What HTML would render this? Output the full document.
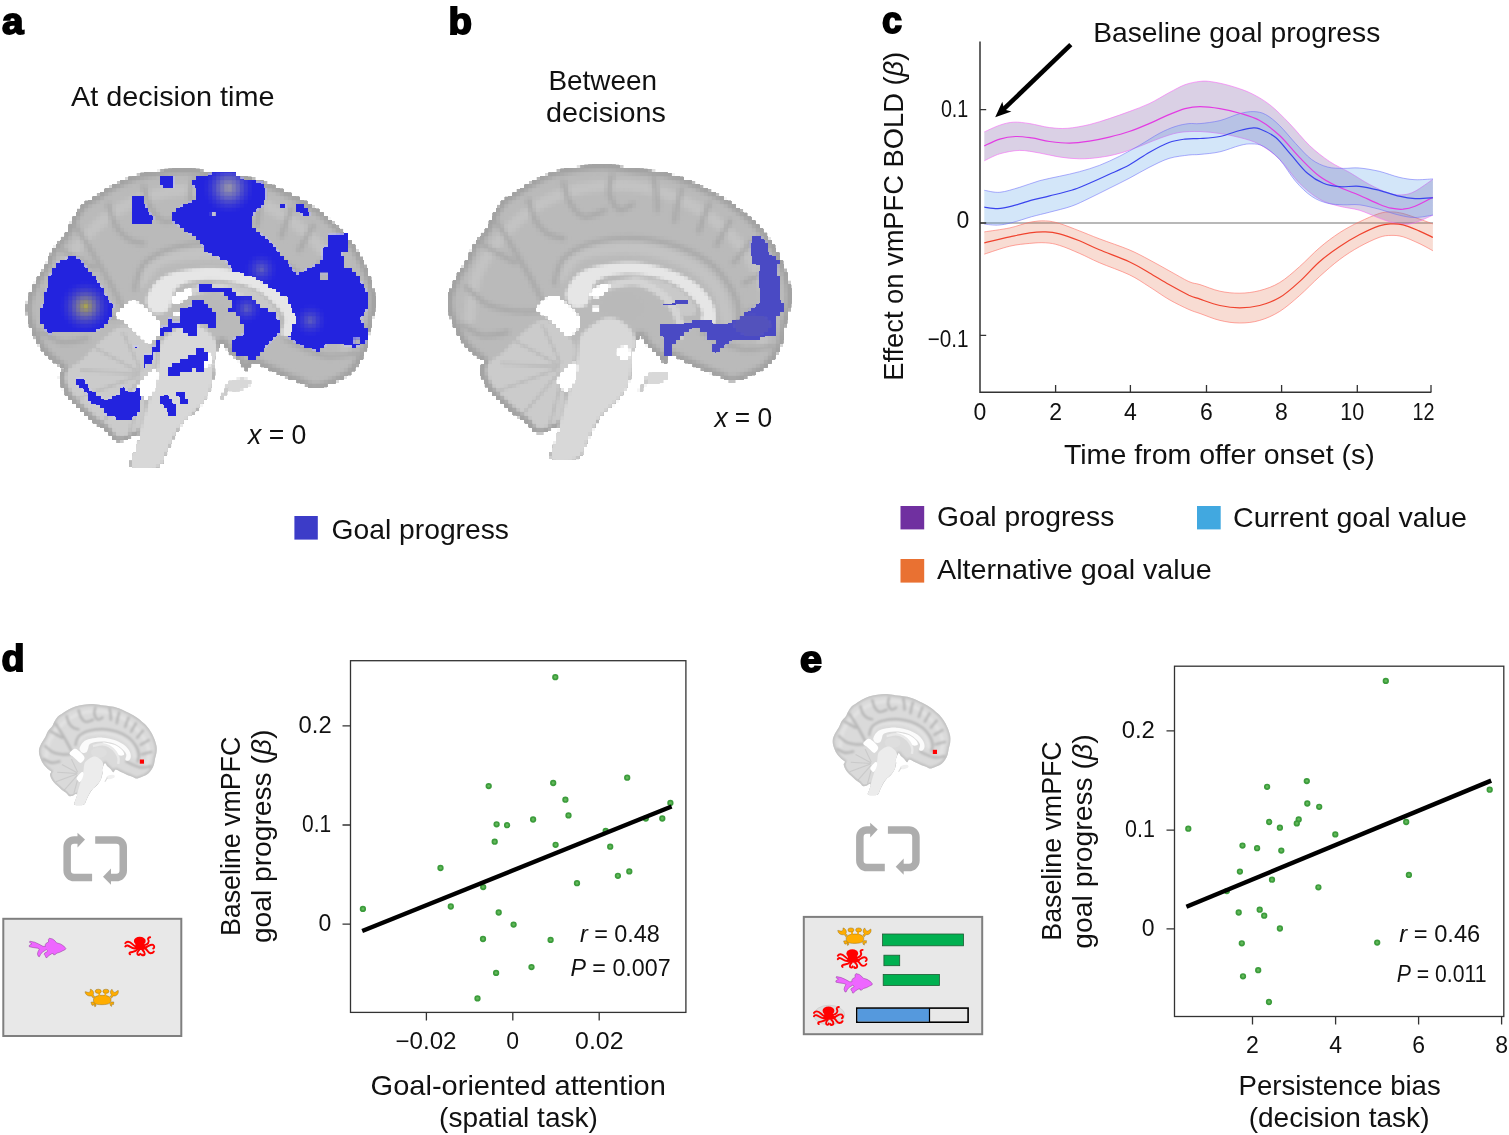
<!DOCTYPE html>
<html lang="en"><head><meta charset="utf-8"><title>Figure</title>
<style>html,body{margin:0;padding:0;background:#fff}body{width:1509px;height:1135px;overflow:hidden}svg{display:block}text{font-family:"Liberation Sans", sans-serif;fill:#111}</style></head><body>
<svg width="1509" height="1135" viewBox="0 0 1509 1135">
<rect width="1509" height="1135" fill="#fff"/>
<defs>
<clipPath id="bclip"><path d="M600 118C625.3 118.5 645.5 124.5 672 128C698.5 131.5 735 134.7 759 139C783 143.3 795.8 146.8 816 154C836.2 161.2 856.3 170.3 880 182C903.7 193.7 933 207.3 958 224C983 240.7 1010.3 263.3 1030 282C1049.7 300.7 1062.7 316.7 1076 336C1089.3 355.3 1100.5 376 1110 398C1119.5 420 1129 447.7 1133 468C1137 488.3 1136 502.2 1134 520C1132 537.8 1124.8 557 1121 575C1117.2 593 1115.8 612.5 1111 628C1106.2 643.5 1100.2 655.7 1092 668C1083.8 680.3 1073.7 692.7 1062 702C1050.3 711.3 1034.8 718 1022 724C1009.2 730 995.3 735 985 738C974.7 741 969.2 743.7 960 742C950.8 740.3 943.3 733.7 930 728C916.7 722.3 896.7 715.2 880 708C863.3 700.8 845 691.7 830 685C815 678.3 799.7 667.2 790 668C780.3 668.8 779 691 772 690C765 689 756.3 670.3 748 662C739.7 653.7 729.7 648.3 722 640C714.3 631.7 708 612 702 612C696 612 690.2 630.3 686 640C681.8 649.7 678 660 677 670C676 680 681.8 686.7 680 700C678.2 713.3 673.7 733.3 666 750C658.3 766.7 645.5 786.3 634 800C622.5 813.7 607.7 820 597 832C586.3 844 578.5 857.3 570 872C561.5 886.7 554 905 546 920C538 935 538.8 955 522 962C505.2 969 456.2 969 445 962C433.8 955 451.2 934 455 920C458.8 906 468.8 885.7 468 878C467.2 870.3 456.3 872.3 450 874C443.7 875.7 438.3 885.3 430 888C421.7 890.7 409.2 894.3 400 890C390.8 885.7 385 870.7 375 862C365 853.3 352.5 848 340 838C327.5 828 313 814.7 300 802C287 789.3 272 777 262 762C252 747 242 724.7 240 712C238 699.3 252 693.3 250 686C248 678.7 238 677.3 228 668C218 658.7 201.3 646 190 630C178.7 614 167.2 592 160 572C152.8 552 145.8 530.3 147 510C148.2 489.7 158 469.3 167 450C176 430.7 191.5 411.5 201 394C210.5 376.5 214.5 359.8 224 345C233.5 330.2 249.3 318.2 258 305C266.7 291.8 268 279.8 276 266C284 252.2 295.3 233.2 306 222C316.7 210.8 325.7 208.3 340 199C354.3 189.7 373.3 176 392 166C410.7 156 430.7 145.8 452 139C473.3 132.2 495.3 128.5 520 125C544.7 121.5 574.7 117.5 600 118Z"/></clipPath>
<filter id="bl6" x="-20%" y="-20%" width="140%" height="140%"><feGaussianBlur stdDeviation="6"/></filter>
<filter id="bl10" x="-20%" y="-20%" width="140%" height="140%"><feGaussianBlur stdDeviation="9"/></filter>
<filter id="bl3" x="-20%" y="-20%" width="140%" height="140%"><feGaussianBlur stdDeviation="3"/></filter>
<filter id="blsoft" x="-5%" y="-5%" width="110%" height="110%"><feGaussianBlur stdDeviation="4"/></filter>
<filter id="pix" x="0" y="0" width="100%" height="100%" filterUnits="userSpaceOnUse" primitiveUnits="userSpaceOnUse" color-interpolation-filters="sRGB"><feFlood x="1" y="1" width="2" height="2" flood-color="#000"/><feComposite in2="SourceGraphic" operator="over" x="0" y="0" width="4" height="4" result="cell"/><feTile in="cell" x="0" y="0" width="1509" height="600" result="grid"/><feComposite in="SourceGraphic" in2="grid" operator="in"/><feMorphology operator="dilate" radius="1"/></filter>
<radialGradient id="hot1"><stop offset="0" stop-color="#a8a24a"/><stop offset="0.35" stop-color="#77749a" stop-opacity="0.85"/><stop offset="1" stop-color="#3a3ad0" stop-opacity="0"/></radialGradient>
<radialGradient id="hot2"><stop offset="0" stop-color="#9a98a6"/><stop offset="0.4" stop-color="#6f6fb8" stop-opacity="0.8"/><stop offset="1" stop-color="#3a3ad0" stop-opacity="0"/></radialGradient>
<radialGradient id="hot3"><stop offset="0" stop-color="#6464b8" stop-opacity="0.9"/><stop offset="1" stop-color="#3a3ad0" stop-opacity="0"/></radialGradient>
<g id="fish"><polygon points="36.98,10.34 34.79,7.75 31.61,5.77 27.63,4.57 26.04,2.58 23.66,0.8 20.48,0 19.48,1.39 19.68,3.78 17.3,4.97 16.3,6.56 16.5,8.15 14.12,8.15 9.74,5.77 5.77,3.98 0.99,2.98 0.6,4.17 2.98,5.57 0.4,7.16 0.4,8.55 4.17,9.34 8.55,9.94 10.54,10.93 9.15,13.32 8.55,15.71 9.34,18.09 10.54,18.49 11.73,16.1 13.72,13.72 16.5,12.13 17.5,11.33 18.49,12.52 18.29,13.52 15.9,14.71 15.31,16.1 16.5,17.69 17.1,19.48 18.09,19.28 20.08,17.3 22.47,15.71 24.25,15.11 24.65,16.5 26.04,16.5 28.03,14.91 30.82,14.12 34,12.52 36.38,11.33" fill="#ee66ff" stroke="#8a3a96" stroke-width="0.5" stroke-linejoin="round"/></g>
<g id="octo" transform="scale(0.03313) translate(-300 -265)" fill="#ff0000" stroke="#ff0000" stroke-linecap="round" stroke-linejoin="round"><ellipse cx="755" cy="395" rx="178" ry="128" stroke="none"/><path d="M610 470C640 520 630 550 590 590C640 690 920 700 990 600C920 560 880 520 900 470Z" stroke="none"/><g fill="none" stroke-width="58"><path d="M640 560C540 540 510 410 400 415C350 420 330 445 318 462"/><path d="M640 615C520 650 470 545 390 530C350 525 330 545 318 562"/><path d="M690 650C620 730 540 715 465 740C435 755 440 790 462 798"/><path d="M735 670C660 740 670 830 740 815C770 805 770 790 765 780"/><path d="M840 670C930 740 920 830 840 828C815 825 810 810 815 800"/><path d="M940 640C1010 690 1000 760 1080 765C1140 765 1170 730 1180 712"/><path d="M950 580C1040 540 1090 480 1160 515C1205 545 1200 610 1160 622"/><path d="M900 520C990 500 1060 430 1010 350C990 310 1030 285 1068 282"/></g></g>
<g id="crab" transform="scale(0.03181) translate(-195 -280)" fill="#ffad00" stroke="#8c6a1c" stroke-width="14" stroke-linejoin="round"><path d="M470 690L400 700L430 790L470 800L500 760L520 840L560 820L545 740Z"/><path d="M1040 690L1120 690L1110 770L1060 760L1050 830L1010 800L1000 740Z"/><path d="M215 370C230 480 330 520 420 500L470 570L520 520L470 470C510 400 470 310 380 290C390 340 370 390 330 390C280 390 240 360 215 370Z"/><path d="M1060 290C1000 340 1000 420 1050 470L1000 520L1050 570L1100 500C1200 520 1280 440 1260 330C1230 320 1200 380 1150 390C1110 390 1090 340 1060 290Z"/><path d="M640 400H690V500H640ZM830 400H880V500H830Z" stroke="none"/><ellipse cx="630" cy="355" rx="95" ry="66"/><ellipse cx="872" cy="355" rx="95" ry="66"/><path d="M480 625C480 525 600 482 757 482S1032 525 1032 625C1032 725 980 772 757 776S480 745 480 625Z"/><path d="M645 420H685V500H645ZM835 420H875V500H835Z" stroke="none"/></g>
</defs>
<text x="2" y="34" font-size="36" font-weight="bold" textLength="21.5" lengthAdjust="spacingAndGlyphs" stroke="#000" stroke-width="1.8" style="fill:#000" paint-order="stroke">a</text>
<text x="448.5" y="33.5" font-size="36" font-weight="bold" textLength="23.5" lengthAdjust="spacingAndGlyphs" stroke="#000" stroke-width="1.8" style="fill:#000" paint-order="stroke">b</text>
<text x="882" y="33" font-size="36" font-weight="bold" textLength="20" lengthAdjust="spacingAndGlyphs" stroke="#000" stroke-width="1.8" style="fill:#000" paint-order="stroke">c</text>
<text x="1.5" y="671" font-size="36" font-weight="bold" textLength="23" lengthAdjust="spacingAndGlyphs" stroke="#000" stroke-width="1.8" style="fill:#000" paint-order="stroke">d</text>
<text x="800" y="672.3" font-size="36" font-weight="bold" textLength="22" lengthAdjust="spacingAndGlyphs" stroke="#000" stroke-width="1.8" style="fill:#000" paint-order="stroke">e</text>
<text x="71" y="106" font-size="28" font-weight="normal" textLength="203.5" lengthAdjust="spacingAndGlyphs">At decision time</text>
<text x="548.5" y="89.8" font-size="28" font-weight="normal" textLength="108.5" lengthAdjust="spacingAndGlyphs">Between</text>
<text x="546" y="121.9" font-size="28" font-weight="normal" textLength="119.8" lengthAdjust="spacingAndGlyphs">decisions</text>
<g filter="url(#pix)">
<g transform="translate(26.5 168.5) scale(0.3530) translate(-148 -118)">
<path d="M600 118C625.3 118.5 645.5 124.5 672 128C698.5 131.5 735 134.7 759 139C783 143.3 795.8 146.8 816 154C836.2 161.2 856.3 170.3 880 182C903.7 193.7 933 207.3 958 224C983 240.7 1010.3 263.3 1030 282C1049.7 300.7 1062.7 316.7 1076 336C1089.3 355.3 1100.5 376 1110 398C1119.5 420 1129 447.7 1133 468C1137 488.3 1136 502.2 1134 520C1132 537.8 1124.8 557 1121 575C1117.2 593 1115.8 612.5 1111 628C1106.2 643.5 1100.2 655.7 1092 668C1083.8 680.3 1073.7 692.7 1062 702C1050.3 711.3 1034.8 718 1022 724C1009.2 730 995.3 735 985 738C974.7 741 969.2 743.7 960 742C950.8 740.3 943.3 733.7 930 728C916.7 722.3 896.7 715.2 880 708C863.3 700.8 845 691.7 830 685C815 678.3 799.7 667.2 790 668C780.3 668.8 779 691 772 690C765 689 756.3 670.3 748 662C739.7 653.7 729.7 648.3 722 640C714.3 631.7 708 612 702 612C696 612 690.2 630.3 686 640C681.8 649.7 678 660 677 670C676 680 681.8 686.7 680 700C678.2 713.3 673.7 733.3 666 750C658.3 766.7 645.5 786.3 634 800C622.5 813.7 607.7 820 597 832C586.3 844 578.5 857.3 570 872C561.5 886.7 554 905 546 920C538 935 538.8 955 522 962C505.2 969 456.2 969 445 962C433.8 955 451.2 934 455 920C458.8 906 468.8 885.7 468 878C467.2 870.3 456.3 872.3 450 874C443.7 875.7 438.3 885.3 430 888C421.7 890.7 409.2 894.3 400 890C390.8 885.7 385 870.7 375 862C365 853.3 352.5 848 340 838C327.5 828 313 814.7 300 802C287 789.3 272 777 262 762C252 747 242 724.7 240 712C238 699.3 252 693.3 250 686C248 678.7 238 677.3 228 668C218 658.7 201.3 646 190 630C178.7 614 167.2 592 160 572C152.8 552 145.8 530.3 147 510C148.2 489.7 158 469.3 167 450C176 430.7 191.5 411.5 201 394C210.5 376.5 214.5 359.8 224 345C233.5 330.2 249.3 318.2 258 305C266.7 291.8 268 279.8 276 266C284 252.2 295.3 233.2 306 222C316.7 210.8 325.7 208.3 340 199C354.3 189.7 373.3 176 392 166C410.7 156 430.7 145.8 452 139C473.3 132.2 495.3 128.5 520 125C544.7 121.5 574.7 117.5 600 118Z" fill="#bababa"/>
<g clip-path="url(#bclip)">
<g filter="url(#bl6)" fill="none" stroke-linecap="round">
<path d="M600 118C625.3 118.5 645.5 124.5 672 128C698.5 131.5 735 134.7 759 139C783 143.3 795.8 146.8 816 154C836.2 161.2 856.3 170.3 880 182C903.7 193.7 933 207.3 958 224C983 240.7 1010.3 263.3 1030 282C1049.7 300.7 1062.7 316.7 1076 336C1089.3 355.3 1100.5 376 1110 398C1119.5 420 1129 447.7 1133 468C1137 488.3 1136 502.2 1134 520C1132 537.8 1124.8 557 1121 575C1117.2 593 1115.8 612.5 1111 628C1106.2 643.5 1100.2 655.7 1092 668C1083.8 680.3 1073.7 692.7 1062 702C1050.3 711.3 1034.8 718 1022 724C1009.2 730 995.3 735 985 738C974.7 741 969.2 743.7 960 742C950.8 740.3 943.3 733.7 930 728C916.7 722.3 896.7 715.2 880 708C863.3 700.8 845 691.7 830 685C815 678.3 799.7 667.2 790 668C780.3 668.8 779 691 772 690C765 689 756.3 670.3 748 662C739.7 653.7 729.7 648.3 722 640C714.3 631.7 708 612 702 612C696 612 690.2 630.3 686 640C681.8 649.7 678 660 677 670C676 680 681.8 686.7 680 700C678.2 713.3 673.7 733.3 666 750C658.3 766.7 645.5 786.3 634 800C622.5 813.7 607.7 820 597 832C586.3 844 578.5 857.3 570 872C561.5 886.7 554 905 546 920C538 935 538.8 955 522 962C505.2 969 456.2 969 445 962C433.8 955 451.2 934 455 920C458.8 906 468.8 885.7 468 878C467.2 870.3 456.3 872.3 450 874C443.7 875.7 438.3 885.3 430 888C421.7 890.7 409.2 894.3 400 890C390.8 885.7 385 870.7 375 862C365 853.3 352.5 848 340 838C327.5 828 313 814.7 300 802C287 789.3 272 777 262 762C252 747 242 724.7 240 712C238 699.3 252 693.3 250 686C248 678.7 238 677.3 228 668C218 658.7 201.3 646 190 630C178.7 614 167.2 592 160 572C152.8 552 145.8 530.3 147 510C148.2 489.7 158 469.3 167 450C176 430.7 191.5 411.5 201 394C210.5 376.5 214.5 359.8 224 345C233.5 330.2 249.3 318.2 258 305C266.7 291.8 268 279.8 276 266C284 252.2 295.3 233.2 306 222C316.7 210.8 325.7 208.3 340 199C354.3 189.7 373.3 176 392 166C410.7 156 430.7 145.8 452 139C473.3 132.2 495.3 128.5 520 125C544.7 121.5 574.7 117.5 600 118Z" stroke="#a2a2a2" stroke-width="30"/>
<path d="M470 440C478.3 430 498.3 393 520 380C541.7 367 570 365.3 600 362C630 358.7 666.7 356.2 700 360C733.3 363.8 770 373.3 800 385C830 396.7 858.3 412.5 880 430C901.7 447.5 918.3 468.3 930 490C941.7 511.7 946.7 548.3 950 560" stroke="#c3c3c3" stroke-width="34"/>
<path d="M210 560C213.3 540 215 478.3 230 440C245 401.7 271.7 363.3 300 330C328.3 296.7 363.3 263.3 400 240C436.7 216.7 473.3 200 520 190C566.7 180 630 175 680 180C730 185 776.7 200 820 220C863.3 240 905 268.3 940 300C975 331.7 1008.3 373.3 1030 410C1051.7 446.7 1066.7 481.7 1070 520C1073.3 558.3 1053.3 620 1050 640" stroke="#c3c3c3" stroke-width="30"/>
<path d="M455 460C459.2 448.3 462.5 409.2 480 390C497.5 370.8 526.7 355 560 345C593.3 335 640 329.2 680 330C720 330.8 763.3 338.3 800 350C836.7 361.7 873.3 380 900 400C926.7 420 945.8 446.7 960 470C974.2 493.3 982.5 518.3 985 540C987.5 561.7 976.7 590 975 600" stroke="#a8a8a8" stroke-width="15"/>
<path d="M290 285C296.7 295.8 315 325 330 350C345 375 364.2 406.7 380 435C395.8 463.3 417.5 505.8 425 520" stroke="#a8a8a8" stroke-width="15"/>
<path d="M200 470C210 478.3 236.7 508.3 260 520C283.3 531.7 315 536.7 340 540C365 543.3 398.3 540 410 540" stroke="#a8a8a8" stroke-width="15"/>
<path d="M480 170C483.3 180 490 213.7 500 230C510 246.3 523.3 264.7 540 268C556.7 271.3 590 253 600 250" stroke="#a8a8a8" stroke-width="15"/>
<path d="M620 150C618.7 158.3 608.7 183.7 612 200C615.3 216.3 628.7 242.7 640 248C651.3 253.3 673.3 234.7 680 232" stroke="#a8a8a8" stroke-width="15"/>
<path d="M740 160C741.3 167.5 746.3 190 748 205C749.7 220 749.7 242.5 750 250" stroke="#a8a8a8" stroke-width="15"/>
<path d="M820 190C818 197.5 811.3 220 808 235C804.7 250 801.3 272.5 800 280" stroke="#a8a8a8" stroke-width="15"/>
<path d="M900 230C897.3 236.7 889 256.7 884 270C879 283.3 872.3 303.3 870 310" stroke="#a8a8a8" stroke-width="15"/>
<path d="M960 280C956.7 285.8 946.7 303.3 940 315C933.3 326.7 923.3 344.2 920 350" stroke="#a8a8a8" stroke-width="15"/>
<path d="M1020 340C1015.8 345 1003.3 360 995 370C986.7 380 974.2 395 970 400" stroke="#a8a8a8" stroke-width="15"/>
<path d="M1070 420C1064.2 423.3 1046.7 433.3 1035 440C1023.3 446.7 1005.8 456.7 1000 460" stroke="#a8a8a8" stroke-width="15"/>
<path d="M1090 520C1083.3 521.7 1063.3 526.7 1050 530C1036.7 533.3 1016.7 538.3 1010 540" stroke="#a8a8a8" stroke-width="15"/>
<path d="M380 220C383.3 230 390 263.3 400 280C410 296.7 426.7 311.7 440 320C453.3 328.3 473.3 328.3 480 330" stroke="#a8a8a8" stroke-width="15"/>
<path d="M250 350C257.5 354.2 280 366.7 295 375C310 383.3 332.5 395.8 340 400" stroke="#a8a8a8" stroke-width="15"/>
<path d="M1080 640C1066.7 641.7 1025 652.5 1000 650C975 647.5 950 633.3 930 625C910 616.7 888.3 604.2 880 600" stroke="#a8a8a8" stroke-width="15"/>
<path d="M190 580C200 585 228.3 606.7 250 610C271.7 613.3 308.3 601.7 320 600" stroke="#a8a8a8" stroke-width="15"/>
</g>
<g filter="url(#bl3)">
<path d="M306 660C320.7 647 341 621.7 360 606C379 590.3 401.7 568.3 420 566C438.3 563.7 454.7 579.7 470 592C485.3 604.3 506.7 622 512 640C517.3 658 509.7 683 502 700C494.3 717 469.3 728.3 466 742C462.7 755.7 481.3 764.7 482 782C482.7 799.3 478.3 831 470 846C461.7 861 443 867.7 432 872C421 876.3 412 876 404 872C396 868 393 856.3 384 848C375 839.7 362 832 350 822C338 812 324 799.7 312 788C300 776.3 286.7 765 278 752C269.3 739 261 721.3 260 710C259 698.7 264.3 692.3 272 684C279.7 675.7 291.3 673 306 660Z" fill="#cbcbcb"/>
<ellipse cx="650" cy="525" rx="66" ry="44" fill="#b9b9b9"/>
<path d="M540 600C552.3 588 581.7 564.7 600 560C618.3 555.3 635.7 562.3 650 572C664.3 581.7 681.3 598.3 686 618C690.7 637.7 681.7 666.3 678 690C674.3 713.7 674 739.7 664 760C654 780.3 632 796.7 618 812C604 827.3 592 834 580 852C568 870 555.7 901.7 546 920C536.3 938.3 538.8 955 522 962C505.2 969 453.7 978.7 445 962C436.3 945.3 460.8 895.3 470 862C479.2 828.7 491.7 792 500 762C508.3 732 515.7 703.7 520 682C524.3 660.3 522.7 645.7 526 632C529.3 618.3 527.7 612 540 600Z" fill="#d8d8d8"/>
<path d="M690 440C706.3 440.8 755 450 780 460C805 470 826.3 486.7 840 500C853.7 513.3 862.7 531.3 862 540C861.3 548.7 846.3 552 836 552C825.7 552 811 547.7 800 540C789 532.3 783.3 517.7 770 506C756.7 494.3 734.7 478.5 720 470C705.3 461.5 687 460 682 455C677 450 673.7 439.2 690 440Z" fill="#c9c9c9"/>
<path d="M600 470C613.3 467.5 656.7 454.2 680 455C703.3 455.8 721.7 464.2 740 475C758.3 485.8 777.5 503.3 790 520C802.5 536.7 811.3 558.3 815 575C818.7 591.7 812.5 612.5 812 620" fill="none" stroke="#d4d4d4" stroke-width="20"/>
<path d="M490 482C494.7 470.3 505 448 520 436C535 424 553.3 416 580 410C606.7 404 646.7 398.3 680 400C713.3 401.7 750 410 780 420C810 430 839.2 445 860 460C880.8 475 895.3 493.3 905 510C914.7 526.7 918.8 546.3 918 560C917.2 573.7 907.7 587.7 900 592C892.3 596.3 875.3 594.3 872 586C868.7 577.7 883.7 556.3 880 542C876.3 527.7 865 514.3 850 500C835 485.7 815 467.2 790 456C765 444.8 728.3 436.3 700 433C671.7 429.7 641.3 432.2 620 436C598.7 439.8 582 447 572 456C562 465 564.5 479 560 490C555.5 501 553.3 515.8 545 522C536.7 528.2 518.8 529.7 510 527C501.2 524.3 495.3 513.5 492 506C488.7 498.5 485.3 493.7 490 482Z" fill="#e6e6e6"/>
<g fill="none" stroke="#a8a8a8" stroke-width="9" opacity="0.45">
<path d="M470 700L300 690M465 705L290 770M470 715L360 840M480 720L440 870M468 695L340 625M472 690L420 580"/>
</g>
</g>
</g>
<ellipse cx="748" cy="730" rx="36" ry="17" fill="#d8d8d8" transform="rotate(-12 748 730)"/>
<path d="M700 770L722 735" stroke="#cbcbcb" stroke-width="9" fill="none"/>
<path d="M404 532C406.7 521.7 433.3 497.7 446 494C458.7 490.3 467 500 480 510C493 520 516.3 541.7 524 554C531.7 566.3 530.7 574.3 526 584C521.3 593.7 506.7 611.7 496 612C485.3 612.3 473 595.3 462 586C451 576.7 439.7 565 430 556C420.3 547 401.3 542.3 404 532Z" fill="#fff"/>
<path d="M464 736C468.8 724 494.5 696 504 690C513.5 684 519.8 691.3 521 700C522.2 708.7 516.2 730 511 742C505.8 754 496 768.7 490 772C484 775.3 479.3 768 475 762C470.7 756 459.2 748 464 736Z" fill="#fff"/>
<path d="M700 640C705 637.8 714 646.7 722 652C730 657.3 741.7 665.3 748 672C754.3 678.7 762.2 687.3 760 692C757.8 696.7 744.2 700.3 735 700C725.8 699.7 712.2 695.8 705 690C697.8 684.2 692.8 673.3 692 665C691.2 656.7 695 642.2 700 640Z" fill="#fff"/>
<path d="M640 646C644.8 642 660.8 638 666 642C671.2 646 673.2 663.5 671 670C668.8 676.5 658.7 681.7 653 681C647.3 680.3 639.2 671.8 637 666C634.8 660.2 635.2 650 640 646Z" fill="#fff"/>
<path d="M556 492L574 470L612 458L614 474L596 490L574 504Z" fill="#fff"/>
<path d="M566 526h14v13h-14z" fill="#fff"/>
</g>
<g transform="translate(0 160) scale(0.26525)">
<clipPath id="aclip"><path d="M265 365L300 370L340 420L380 470L410 530L430 545L415 600L380 640L330 650L210 645L180 660L165 625L145 600L165 520L185 440L215 385ZM600 65L655 65L655 105L615 105L600 85ZM495 140L540 140L555 190L580 215L575 245L495 245ZM740 65L800 50L885 50L915 70L990 85L1005 120L1000 165L960 195L945 235L960 260L1000 290L1040 330L1080 380L1120 430L1180 400L1215 380L1215 330L1240 320L1240 280L1310 280L1310 345L1290 350L1295 400L1340 420L1370 470L1385 500L1385 560L1360 600L1390 650L1380 690L1340 705L1300 700L1240 690L1200 720L1130 700L1090 670L1100 630L1120 600L1110 590L1080 520L1000 470L950 440L880 420L850 380L780 350L740 290L700 270L650 230L650 200L690 170L740 150L740 110L720 90ZM872 517L946 517L960 533L976 549L1006 563L1036 577L1052 609L1052 653L1036 669L1022 685L1006 701L992 717L976 743L962 743L962 759L932 759L932 743L886 743L886 729L872 729L872 685L886 669L902 669L916 653L916 625L902 609L902 593L886 577L858 577L858 561L872 561ZM720 533L768 533L780 549L796 563L810 577L810 637L780 637L780 621L748 621L748 665L706 665L706 655L688 655L688 639L644 639L644 653L614 653L614 667L600 667L600 639L614 625L630 625L630 595L644 595L644 609L674 609L674 563L704 563L704 549L720 549ZM748 471L796 471L796 486L872 486L886 502L886 519L858 531L858 519L840 501L748 501ZM736 713L766 713L766 729L780 729L780 761L766 761L766 803L736 803L736 789L720 789L720 803L674 803L674 819L630 819L630 775L644 775L644 761L674 761L674 745L706 745L706 731L736 731ZM584 683L598 683L598 729L582 729L582 759L568 759L568 773L552 773L552 789L538 789L538 733L568 733L568 701L584 701ZM600 900L625 880L640 895L660 920L660 965L635 965L620 930L600 920ZM665 880L700 870L705 915L680 915ZM505 700L520 700L520 712L505 712ZM285 820L320 825L330 860L360 880L400 905L450 880L460 850L490 880L530 850L535 900L520 960L490 985L440 975L400 960L380 930L340 920L325 880L290 850ZM1050 165L1080 165L1080 180L1050 180ZM1115 165L1145 170L1170 195L1170 215L1150 215L1120 190Z"/></clipPath>
<path d="M265 365L300 370L340 420L380 470L410 530L430 545L415 600L380 640L330 650L210 645L180 660L165 625L145 600L165 520L185 440L215 385ZM600 65L655 65L655 105L615 105L600 85ZM495 140L540 140L555 190L580 215L575 245L495 245ZM740 65L800 50L885 50L915 70L990 85L1005 120L1000 165L960 195L945 235L960 260L1000 290L1040 330L1080 380L1120 430L1180 400L1215 380L1215 330L1240 320L1240 280L1310 280L1310 345L1290 350L1295 400L1340 420L1370 470L1385 500L1385 560L1360 600L1390 650L1380 690L1340 705L1300 700L1240 690L1200 720L1130 700L1090 670L1100 630L1120 600L1110 590L1080 520L1000 470L950 440L880 420L850 380L780 350L740 290L700 270L650 230L650 200L690 170L740 150L740 110L720 90ZM872 517L946 517L960 533L976 549L1006 563L1036 577L1052 609L1052 653L1036 669L1022 685L1006 701L992 717L976 743L962 743L962 759L932 759L932 743L886 743L886 729L872 729L872 685L886 669L902 669L916 653L916 625L902 609L902 593L886 577L858 577L858 561L872 561ZM720 533L768 533L780 549L796 563L810 577L810 637L780 637L780 621L748 621L748 665L706 665L706 655L688 655L688 639L644 639L644 653L614 653L614 667L600 667L600 639L614 625L630 625L630 595L644 595L644 609L674 609L674 563L704 563L704 549L720 549ZM748 471L796 471L796 486L872 486L886 502L886 519L858 531L858 519L840 501L748 501ZM736 713L766 713L766 729L780 729L780 761L766 761L766 803L736 803L736 789L720 789L720 803L674 803L674 819L630 819L630 775L644 775L644 761L674 761L674 745L706 745L706 731L736 731ZM584 683L598 683L598 729L582 729L582 759L568 759L568 773L552 773L552 789L538 789L538 733L568 733L568 701L584 701ZM600 900L625 880L640 895L660 920L660 965L635 965L620 930L600 920ZM665 880L700 870L705 915L680 915ZM505 700L520 700L520 712L505 712ZM285 820L320 825L330 860L360 880L400 905L450 880L460 850L490 880L530 850L535 900L520 960L490 985L440 975L400 960L380 930L340 920L325 880L290 850ZM1050 165L1080 165L1080 180L1050 180ZM1115 165L1145 170L1170 195L1170 215L1150 215L1120 190Z" fill="#2323de" shape-rendering="crispEdges"/>
<g clip-path="url(#aclip)">
<circle cx="322" cy="552" r="95" fill="url(#hot1)"/>
<circle cx="862" cy="105" r="95" fill="url(#hot2)"/>
<circle cx="985" cy="412" r="60" fill="url(#hot3)"/>
<circle cx="930" cy="560" r="55" fill="url(#hot3)"/>
<circle cx="1170" cy="605" r="60" fill="url(#hot3)"/>
</g>
<rect x="1205" y="428" width="28" height="26" fill="#b4b4b8"/>
<rect x="795" y="195" width="15" height="15" fill="#c0c0d0"/>
<rect x="1335" y="672" width="22" height="20" fill="#b0b0b6"/>
</g>
</g>
<g filter="url(#pix)">
<g transform="translate(448 164.6) scale(0.3475) translate(-148 -118)">
<path d="M600 118C625.3 118.5 645.5 124.5 672 128C698.5 131.5 735 134.7 759 139C783 143.3 795.8 146.8 816 154C836.2 161.2 856.3 170.3 880 182C903.7 193.7 933 207.3 958 224C983 240.7 1010.3 263.3 1030 282C1049.7 300.7 1062.7 316.7 1076 336C1089.3 355.3 1100.5 376 1110 398C1119.5 420 1129 447.7 1133 468C1137 488.3 1136 502.2 1134 520C1132 537.8 1124.8 557 1121 575C1117.2 593 1115.8 612.5 1111 628C1106.2 643.5 1100.2 655.7 1092 668C1083.8 680.3 1073.7 692.7 1062 702C1050.3 711.3 1034.8 718 1022 724C1009.2 730 995.3 735 985 738C974.7 741 969.2 743.7 960 742C950.8 740.3 943.3 733.7 930 728C916.7 722.3 896.7 715.2 880 708C863.3 700.8 845 691.7 830 685C815 678.3 799.7 667.2 790 668C780.3 668.8 779 691 772 690C765 689 756.3 670.3 748 662C739.7 653.7 729.7 648.3 722 640C714.3 631.7 708 612 702 612C696 612 690.2 630.3 686 640C681.8 649.7 678 660 677 670C676 680 681.8 686.7 680 700C678.2 713.3 673.7 733.3 666 750C658.3 766.7 645.5 786.3 634 800C622.5 813.7 607.7 820 597 832C586.3 844 578.5 857.3 570 872C561.5 886.7 554 905 546 920C538 935 538.8 955 522 962C505.2 969 456.2 969 445 962C433.8 955 451.2 934 455 920C458.8 906 468.8 885.7 468 878C467.2 870.3 456.3 872.3 450 874C443.7 875.7 438.3 885.3 430 888C421.7 890.7 409.2 894.3 400 890C390.8 885.7 385 870.7 375 862C365 853.3 352.5 848 340 838C327.5 828 313 814.7 300 802C287 789.3 272 777 262 762C252 747 242 724.7 240 712C238 699.3 252 693.3 250 686C248 678.7 238 677.3 228 668C218 658.7 201.3 646 190 630C178.7 614 167.2 592 160 572C152.8 552 145.8 530.3 147 510C148.2 489.7 158 469.3 167 450C176 430.7 191.5 411.5 201 394C210.5 376.5 214.5 359.8 224 345C233.5 330.2 249.3 318.2 258 305C266.7 291.8 268 279.8 276 266C284 252.2 295.3 233.2 306 222C316.7 210.8 325.7 208.3 340 199C354.3 189.7 373.3 176 392 166C410.7 156 430.7 145.8 452 139C473.3 132.2 495.3 128.5 520 125C544.7 121.5 574.7 117.5 600 118Z" fill="#bababa"/>
<g clip-path="url(#bclip)">
<g filter="url(#bl6)" fill="none" stroke-linecap="round">
<path d="M600 118C625.3 118.5 645.5 124.5 672 128C698.5 131.5 735 134.7 759 139C783 143.3 795.8 146.8 816 154C836.2 161.2 856.3 170.3 880 182C903.7 193.7 933 207.3 958 224C983 240.7 1010.3 263.3 1030 282C1049.7 300.7 1062.7 316.7 1076 336C1089.3 355.3 1100.5 376 1110 398C1119.5 420 1129 447.7 1133 468C1137 488.3 1136 502.2 1134 520C1132 537.8 1124.8 557 1121 575C1117.2 593 1115.8 612.5 1111 628C1106.2 643.5 1100.2 655.7 1092 668C1083.8 680.3 1073.7 692.7 1062 702C1050.3 711.3 1034.8 718 1022 724C1009.2 730 995.3 735 985 738C974.7 741 969.2 743.7 960 742C950.8 740.3 943.3 733.7 930 728C916.7 722.3 896.7 715.2 880 708C863.3 700.8 845 691.7 830 685C815 678.3 799.7 667.2 790 668C780.3 668.8 779 691 772 690C765 689 756.3 670.3 748 662C739.7 653.7 729.7 648.3 722 640C714.3 631.7 708 612 702 612C696 612 690.2 630.3 686 640C681.8 649.7 678 660 677 670C676 680 681.8 686.7 680 700C678.2 713.3 673.7 733.3 666 750C658.3 766.7 645.5 786.3 634 800C622.5 813.7 607.7 820 597 832C586.3 844 578.5 857.3 570 872C561.5 886.7 554 905 546 920C538 935 538.8 955 522 962C505.2 969 456.2 969 445 962C433.8 955 451.2 934 455 920C458.8 906 468.8 885.7 468 878C467.2 870.3 456.3 872.3 450 874C443.7 875.7 438.3 885.3 430 888C421.7 890.7 409.2 894.3 400 890C390.8 885.7 385 870.7 375 862C365 853.3 352.5 848 340 838C327.5 828 313 814.7 300 802C287 789.3 272 777 262 762C252 747 242 724.7 240 712C238 699.3 252 693.3 250 686C248 678.7 238 677.3 228 668C218 658.7 201.3 646 190 630C178.7 614 167.2 592 160 572C152.8 552 145.8 530.3 147 510C148.2 489.7 158 469.3 167 450C176 430.7 191.5 411.5 201 394C210.5 376.5 214.5 359.8 224 345C233.5 330.2 249.3 318.2 258 305C266.7 291.8 268 279.8 276 266C284 252.2 295.3 233.2 306 222C316.7 210.8 325.7 208.3 340 199C354.3 189.7 373.3 176 392 166C410.7 156 430.7 145.8 452 139C473.3 132.2 495.3 128.5 520 125C544.7 121.5 574.7 117.5 600 118Z" stroke="#a2a2a2" stroke-width="30"/>
<path d="M470 440C478.3 430 498.3 393 520 380C541.7 367 570 365.3 600 362C630 358.7 666.7 356.2 700 360C733.3 363.8 770 373.3 800 385C830 396.7 858.3 412.5 880 430C901.7 447.5 918.3 468.3 930 490C941.7 511.7 946.7 548.3 950 560" stroke="#c3c3c3" stroke-width="34"/>
<path d="M210 560C213.3 540 215 478.3 230 440C245 401.7 271.7 363.3 300 330C328.3 296.7 363.3 263.3 400 240C436.7 216.7 473.3 200 520 190C566.7 180 630 175 680 180C730 185 776.7 200 820 220C863.3 240 905 268.3 940 300C975 331.7 1008.3 373.3 1030 410C1051.7 446.7 1066.7 481.7 1070 520C1073.3 558.3 1053.3 620 1050 640" stroke="#c3c3c3" stroke-width="30"/>
<path d="M455 460C459.2 448.3 462.5 409.2 480 390C497.5 370.8 526.7 355 560 345C593.3 335 640 329.2 680 330C720 330.8 763.3 338.3 800 350C836.7 361.7 873.3 380 900 400C926.7 420 945.8 446.7 960 470C974.2 493.3 982.5 518.3 985 540C987.5 561.7 976.7 590 975 600" stroke="#a8a8a8" stroke-width="15"/>
<path d="M290 285C296.7 295.8 315 325 330 350C345 375 364.2 406.7 380 435C395.8 463.3 417.5 505.8 425 520" stroke="#a8a8a8" stroke-width="15"/>
<path d="M200 470C210 478.3 236.7 508.3 260 520C283.3 531.7 315 536.7 340 540C365 543.3 398.3 540 410 540" stroke="#a8a8a8" stroke-width="15"/>
<path d="M480 170C483.3 180 490 213.7 500 230C510 246.3 523.3 264.7 540 268C556.7 271.3 590 253 600 250" stroke="#a8a8a8" stroke-width="15"/>
<path d="M620 150C618.7 158.3 608.7 183.7 612 200C615.3 216.3 628.7 242.7 640 248C651.3 253.3 673.3 234.7 680 232" stroke="#a8a8a8" stroke-width="15"/>
<path d="M740 160C741.3 167.5 746.3 190 748 205C749.7 220 749.7 242.5 750 250" stroke="#a8a8a8" stroke-width="15"/>
<path d="M820 190C818 197.5 811.3 220 808 235C804.7 250 801.3 272.5 800 280" stroke="#a8a8a8" stroke-width="15"/>
<path d="M900 230C897.3 236.7 889 256.7 884 270C879 283.3 872.3 303.3 870 310" stroke="#a8a8a8" stroke-width="15"/>
<path d="M960 280C956.7 285.8 946.7 303.3 940 315C933.3 326.7 923.3 344.2 920 350" stroke="#a8a8a8" stroke-width="15"/>
<path d="M1020 340C1015.8 345 1003.3 360 995 370C986.7 380 974.2 395 970 400" stroke="#a8a8a8" stroke-width="15"/>
<path d="M1070 420C1064.2 423.3 1046.7 433.3 1035 440C1023.3 446.7 1005.8 456.7 1000 460" stroke="#a8a8a8" stroke-width="15"/>
<path d="M1090 520C1083.3 521.7 1063.3 526.7 1050 530C1036.7 533.3 1016.7 538.3 1010 540" stroke="#a8a8a8" stroke-width="15"/>
<path d="M380 220C383.3 230 390 263.3 400 280C410 296.7 426.7 311.7 440 320C453.3 328.3 473.3 328.3 480 330" stroke="#a8a8a8" stroke-width="15"/>
<path d="M250 350C257.5 354.2 280 366.7 295 375C310 383.3 332.5 395.8 340 400" stroke="#a8a8a8" stroke-width="15"/>
<path d="M1080 640C1066.7 641.7 1025 652.5 1000 650C975 647.5 950 633.3 930 625C910 616.7 888.3 604.2 880 600" stroke="#a8a8a8" stroke-width="15"/>
<path d="M190 580C200 585 228.3 606.7 250 610C271.7 613.3 308.3 601.7 320 600" stroke="#a8a8a8" stroke-width="15"/>
</g>
<g filter="url(#bl3)">
<path d="M306 660C320.7 647 341 621.7 360 606C379 590.3 401.7 568.3 420 566C438.3 563.7 454.7 579.7 470 592C485.3 604.3 506.7 622 512 640C517.3 658 509.7 683 502 700C494.3 717 469.3 728.3 466 742C462.7 755.7 481.3 764.7 482 782C482.7 799.3 478.3 831 470 846C461.7 861 443 867.7 432 872C421 876.3 412 876 404 872C396 868 393 856.3 384 848C375 839.7 362 832 350 822C338 812 324 799.7 312 788C300 776.3 286.7 765 278 752C269.3 739 261 721.3 260 710C259 698.7 264.3 692.3 272 684C279.7 675.7 291.3 673 306 660Z" fill="#cbcbcb"/>
<ellipse cx="650" cy="525" rx="66" ry="44" fill="#b9b9b9"/>
<path d="M540 600C552.3 588 581.7 564.7 600 560C618.3 555.3 635.7 562.3 650 572C664.3 581.7 681.3 598.3 686 618C690.7 637.7 681.7 666.3 678 690C674.3 713.7 674 739.7 664 760C654 780.3 632 796.7 618 812C604 827.3 592 834 580 852C568 870 555.7 901.7 546 920C536.3 938.3 538.8 955 522 962C505.2 969 453.7 978.7 445 962C436.3 945.3 460.8 895.3 470 862C479.2 828.7 491.7 792 500 762C508.3 732 515.7 703.7 520 682C524.3 660.3 522.7 645.7 526 632C529.3 618.3 527.7 612 540 600Z" fill="#d8d8d8"/>
<path d="M690 440C706.3 440.8 755 450 780 460C805 470 826.3 486.7 840 500C853.7 513.3 862.7 531.3 862 540C861.3 548.7 846.3 552 836 552C825.7 552 811 547.7 800 540C789 532.3 783.3 517.7 770 506C756.7 494.3 734.7 478.5 720 470C705.3 461.5 687 460 682 455C677 450 673.7 439.2 690 440Z" fill="#c9c9c9"/>
<path d="M600 470C613.3 467.5 656.7 454.2 680 455C703.3 455.8 721.7 464.2 740 475C758.3 485.8 777.5 503.3 790 520C802.5 536.7 811.3 558.3 815 575C818.7 591.7 812.5 612.5 812 620" fill="none" stroke="#d4d4d4" stroke-width="20"/>
<path d="M490 482C494.7 470.3 505 448 520 436C535 424 553.3 416 580 410C606.7 404 646.7 398.3 680 400C713.3 401.7 750 410 780 420C810 430 839.2 445 860 460C880.8 475 895.3 493.3 905 510C914.7 526.7 918.8 546.3 918 560C917.2 573.7 907.7 587.7 900 592C892.3 596.3 875.3 594.3 872 586C868.7 577.7 883.7 556.3 880 542C876.3 527.7 865 514.3 850 500C835 485.7 815 467.2 790 456C765 444.8 728.3 436.3 700 433C671.7 429.7 641.3 432.2 620 436C598.7 439.8 582 447 572 456C562 465 564.5 479 560 490C555.5 501 553.3 515.8 545 522C536.7 528.2 518.8 529.7 510 527C501.2 524.3 495.3 513.5 492 506C488.7 498.5 485.3 493.7 490 482Z" fill="#e6e6e6"/>
<g fill="none" stroke="#a8a8a8" stroke-width="9" opacity="0.45">
<path d="M470 700L300 690M465 705L290 770M470 715L360 840M480 720L440 870M468 695L340 625M472 690L420 580"/>
</g>
</g>
</g>
<ellipse cx="748" cy="730" rx="36" ry="17" fill="#d8d8d8" transform="rotate(-12 748 730)"/>
<path d="M700 770L722 735" stroke="#cbcbcb" stroke-width="9" fill="none"/>
<path d="M404 532C406.7 521.7 433.3 497.7 446 494C458.7 490.3 467 500 480 510C493 520 516.3 541.7 524 554C531.7 566.3 530.7 574.3 526 584C521.3 593.7 506.7 611.7 496 612C485.3 612.3 473 595.3 462 586C451 576.7 439.7 565 430 556C420.3 547 401.3 542.3 404 532Z" fill="#fff"/>
<path d="M464 736C468.8 724 494.5 696 504 690C513.5 684 519.8 691.3 521 700C522.2 708.7 516.2 730 511 742C505.8 754 496 768.7 490 772C484 775.3 479.3 768 475 762C470.7 756 459.2 748 464 736Z" fill="#fff"/>
<path d="M700 640C705 637.8 714 646.7 722 652C730 657.3 741.7 665.3 748 672C754.3 678.7 762.2 687.3 760 692C757.8 696.7 744.2 700.3 735 700C725.8 699.7 712.2 695.8 705 690C697.8 684.2 692.8 673.3 692 665C691.2 656.7 695 642.2 700 640Z" fill="#fff"/>
<path d="M640 646C644.8 642 660.8 638 666 642C671.2 646 673.2 663.5 671 670C668.8 676.5 658.7 681.7 653 681C647.3 680.3 639.2 671.8 637 666C634.8 660.2 635.2 650 640 646Z" fill="#fff"/>
<path d="M556 492L574 470L612 458L614 474L596 490L574 504Z" fill="#fff"/>
<path d="M566 526h14v13h-14z" fill="#fff"/>
</g>
<g transform="translate(430 150) scale(0.26525)">
<path d="M1215 325L1245 325L1270 350L1275 385L1300 400L1315 420L1310 460L1320 500L1320 560L1335 585L1330 610L1300 640L1300 700L1250 710L1200 715L1140 720L1100 750L1070 770L1065 740L1080 720L1040 720L1040 690L1000 670L960 690L930 720L910 745L910 780L885 780L885 720L860 690L875 655L960 650L1040 640L1100 660L1160 640L1210 600L1240 570L1240 530L1235 480L1240 440L1210 420L1205 360ZM875 575L915 575L930 562L975 562L975 575L940 580L920 590L875 590Z" fill="#4a4ac4" shape-rendering="crispEdges"/>
<ellipse cx="1215" cy="660" rx="70" ry="40" fill="#5a58b8" opacity="0.6"/>
</g>
</g>
<text x="248" y="444.4" font-size="28" font-weight="normal" textLength="58.4" lengthAdjust="spacingAndGlyphs"><tspan font-style="italic">x</tspan> = 0</text>
<text x="714.4" y="427.2" font-size="28" font-weight="normal" textLength="57.8" lengthAdjust="spacingAndGlyphs"><tspan font-style="italic">x</tspan> = 0</text>
<rect x="294.4" y="516" width="23.4" height="23.6" fill="#3c3cc8"/>
<text x="331.6" y="538.5" font-size="28" font-weight="normal" textLength="177.4" lengthAdjust="spacingAndGlyphs">Goal progress</text>
<g id="chart-c" fill="none">
<line x1="980" y1="223" x2="1433" y2="223" stroke="#a0a0a0" stroke-width="1.4"/>
<path d="M984.3 231.9C988.5 231.2 1002.2 229.5 1009.8 227.9C1017.3 226.3 1023.7 223.5 1029.7 222.3C1035.7 221.1 1040.6 220.7 1045.6 220.9C1050.6 221.1 1053.9 221.8 1059.5 223.5C1065.2 225.2 1072.8 228.3 1079.5 230.9C1086.1 233.4 1091.1 235.7 1099.4 238.8C1107.7 242 1120.9 246.3 1129.2 249.8C1137.5 253.3 1142.5 256.2 1149.1 259.7C1155.8 263.2 1162.4 267 1169 270.7C1175.7 274.3 1183.8 279.3 1188.9 281.6C1194.1 283.9 1194.8 283 1200 284.6C1205.2 286.2 1213.3 289.8 1219.9 291.2C1226.5 292.6 1233.2 293.3 1239.8 293.2C1246.5 293.1 1253.1 292.3 1259.7 290.6C1266.4 288.8 1273 286.6 1279.6 282.6C1286.3 278.6 1292.9 272.5 1299.5 266.7C1306.2 260.9 1312.8 253.4 1319.5 247.8C1326.1 242.1 1332.7 237.2 1339.4 232.8C1346 228.5 1352.6 225.1 1359.3 221.9C1365.9 218.7 1373.9 215.2 1379.2 213.5C1384.5 211.9 1387.1 211.9 1391.1 211.9C1395.1 211.9 1398.4 212.4 1403.1 213.5C1407.7 214.7 1414 217.2 1419 218.9C1424 220.6 1430.6 223.1 1432.9 223.9L1432.9 250.8C1430.6 249.5 1424 245.7 1419 243.4C1414 241.1 1407.7 238.2 1403.1 236.8C1398.4 235.5 1395.1 235.3 1391.1 235.4C1387.1 235.5 1384.5 235.5 1379.2 237.4C1373.9 239.3 1365.9 243.1 1359.3 246.8C1352.6 250.5 1346 254.7 1339.4 259.7C1332.7 264.7 1326.1 270.7 1319.5 276.6C1312.8 282.6 1306.2 289.8 1299.5 295.6C1292.9 301.4 1286.3 307.3 1279.6 311.5C1273 315.6 1266.4 318.5 1259.7 320.4C1253.1 322.4 1246.5 323 1239.8 323C1233.2 323 1226.5 322 1219.9 320.4C1213.3 318.9 1205.2 315.3 1200 313.5C1194.8 311.7 1194.1 311.8 1188.9 309.5C1183.8 307.2 1175.7 303.4 1169 299.5C1162.4 295.7 1155.8 290.7 1149.1 286.6C1142.5 282.5 1137.5 278.6 1129.2 274.7C1120.9 270.7 1107.7 266.3 1099.4 262.7C1091.1 259.2 1086.1 256.2 1079.5 253.4C1072.8 250.5 1065.2 247.1 1059.5 245.4C1053.9 243.6 1050.6 243.1 1045.6 242.8C1040.6 242.5 1035.7 242.8 1029.7 243.4C1023.7 244 1017.3 244.4 1009.8 246.2C1002.2 248 988.5 252.8 984.3 254.2Z" fill="rgba(225,110,70,0.24)" stroke="none"/>
<path d="M984.3 231.9C988.5 231.2 1002.2 229.5 1009.8 227.9C1017.3 226.3 1023.7 223.5 1029.7 222.3C1035.7 221.1 1040.6 220.7 1045.6 220.9C1050.6 221.1 1053.9 221.8 1059.5 223.5C1065.2 225.2 1072.8 228.3 1079.5 230.9C1086.1 233.4 1091.1 235.7 1099.4 238.8C1107.7 242 1120.9 246.3 1129.2 249.8C1137.5 253.3 1142.5 256.2 1149.1 259.7C1155.8 263.2 1162.4 267 1169 270.7C1175.7 274.3 1183.8 279.3 1188.9 281.6C1194.1 283.9 1194.8 283 1200 284.6C1205.2 286.2 1213.3 289.8 1219.9 291.2C1226.5 292.6 1233.2 293.3 1239.8 293.2C1246.5 293.1 1253.1 292.3 1259.7 290.6C1266.4 288.8 1273 286.6 1279.6 282.6C1286.3 278.6 1292.9 272.5 1299.5 266.7C1306.2 260.9 1312.8 253.4 1319.5 247.8C1326.1 242.1 1332.7 237.2 1339.4 232.8C1346 228.5 1352.6 225.1 1359.3 221.9C1365.9 218.7 1373.9 215.2 1379.2 213.5C1384.5 211.9 1387.1 211.9 1391.1 211.9C1395.1 211.9 1398.4 212.4 1403.1 213.5C1407.7 214.7 1414 217.2 1419 218.9C1424 220.6 1430.6 223.1 1432.9 223.9" stroke="rgba(255,110,100,0.75)" stroke-width="0.8"/>
<path d="M984.3 254.2C988.5 252.8 1002.2 248 1009.8 246.2C1017.3 244.4 1023.7 244 1029.7 243.4C1035.7 242.8 1040.6 242.5 1045.6 242.8C1050.6 243.1 1053.9 243.6 1059.5 245.4C1065.2 247.1 1072.8 250.5 1079.5 253.4C1086.1 256.2 1091.1 259.2 1099.4 262.7C1107.7 266.3 1120.9 270.7 1129.2 274.7C1137.5 278.6 1142.5 282.5 1149.1 286.6C1155.8 290.7 1162.4 295.7 1169 299.5C1175.7 303.4 1183.8 307.2 1188.9 309.5C1194.1 311.8 1194.8 311.7 1200 313.5C1205.2 315.3 1213.3 318.9 1219.9 320.4C1226.5 322 1233.2 323 1239.8 323C1246.5 323 1253.1 322.4 1259.7 320.4C1266.4 318.5 1273 315.6 1279.6 311.5C1286.3 307.3 1292.9 301.4 1299.5 295.6C1306.2 289.8 1312.8 282.6 1319.5 276.6C1326.1 270.7 1332.7 264.7 1339.4 259.7C1346 254.7 1352.6 250.5 1359.3 246.8C1365.9 243.1 1373.9 239.3 1379.2 237.4C1384.5 235.5 1387.1 235.5 1391.1 235.4C1395.1 235.3 1398.4 235.5 1403.1 236.8C1407.7 238.2 1414 241.1 1419 243.4C1424 245.7 1430.6 249.5 1432.9 250.8" stroke="rgba(255,110,100,0.75)" stroke-width="0.8"/>
<path d="M984.3 131.9C986.9 130.8 994.9 126.8 999.8 125.2C1004.7 123.5 1008.8 122.4 1013.8 122.2C1018.7 121.9 1023.7 122.7 1029.7 123.6C1035.7 124.5 1043.3 126.8 1049.6 127.6C1055.9 128.3 1060.9 128.8 1067.5 128.3C1074.1 127.8 1082.4 126.2 1089.4 124.6C1096.4 122.9 1102.7 120.7 1109.3 118.6C1115.9 116.4 1122.6 114.1 1129.2 111.6C1135.9 109.1 1142.5 106.8 1149.1 103.7C1155.8 100.5 1163.1 95.9 1169 92.7C1175 89.6 1179.8 86.6 1185 84.7C1190.1 82.9 1195.5 81.9 1200 81.4C1204.5 80.9 1207 81 1211.9 81.8C1216.9 82.5 1223.6 83.9 1229.9 85.7C1236.2 87.6 1243.1 89.6 1249.8 92.7C1256.4 95.9 1263 99.5 1269.7 104.7C1276.3 109.8 1283 116.8 1289.6 123.6C1296.2 130.4 1302.9 139.2 1309.5 145.5C1316.1 151.8 1322.8 156.9 1329.4 161.4C1336 165.9 1342.7 168.5 1349.3 172.3C1355.9 176.2 1362.6 180.8 1369.2 184.3C1375.9 187.8 1383.5 191.5 1389.1 193.2C1394.8 195 1398.8 195.2 1403.1 194.8C1407.4 194.5 1410 193.8 1415 191.3C1420 188.7 1429.9 181.3 1432.9 179.3L1432.9 215.1C1429.9 216.4 1420 221.2 1415 222.7C1410 224.2 1407 224.2 1403.1 224.1C1399.1 224 1395.1 223.1 1391.1 222.1C1387.1 221.1 1384.5 220.1 1379.2 218.1C1373.9 216.1 1365.9 212.2 1359.3 210.2C1352.6 208.2 1346 208 1339.4 206.2C1332.7 204.4 1326.1 203 1319.5 199.2C1312.8 195.4 1306.2 189.9 1299.5 183.3C1292.9 176.7 1286.3 165.9 1279.6 159.4C1273 152.9 1266.4 148.1 1259.7 144.5C1253.1 140.8 1246.5 139.3 1239.8 137.5C1233.2 135.7 1226.5 134.5 1219.9 133.5C1213.3 132.5 1206.8 131.7 1200 131.5C1193.2 131.4 1185.8 131.4 1179 132.5C1172.2 133.7 1165.7 136.2 1159.1 138.5C1152.4 140.8 1145.8 144 1139.2 146.5C1132.5 149 1125.9 151.6 1119.3 153.4C1112.6 155.3 1106 156.5 1099.4 157.4C1092.7 158.3 1086.1 158.9 1079.5 158.8C1072.8 158.7 1066.2 158 1059.5 157C1052.9 156.1 1046.3 154.1 1039.6 153C1033 151.9 1026.4 150.3 1019.7 150.4C1013.1 150.6 1005.7 152.1 999.8 153.8C993.9 155.6 986.9 159.6 984.3 160.8Z" fill="rgba(120,80,160,0.27)" stroke="none"/>
<path d="M984.3 131.9C986.9 130.8 994.9 126.8 999.8 125.2C1004.7 123.5 1008.8 122.4 1013.8 122.2C1018.7 121.9 1023.7 122.7 1029.7 123.6C1035.7 124.5 1043.3 126.8 1049.6 127.6C1055.9 128.3 1060.9 128.8 1067.5 128.3C1074.1 127.8 1082.4 126.2 1089.4 124.6C1096.4 122.9 1102.7 120.7 1109.3 118.6C1115.9 116.4 1122.6 114.1 1129.2 111.6C1135.9 109.1 1142.5 106.8 1149.1 103.7C1155.8 100.5 1163.1 95.9 1169 92.7C1175 89.6 1179.8 86.6 1185 84.7C1190.1 82.9 1195.5 81.9 1200 81.4C1204.5 80.9 1207 81 1211.9 81.8C1216.9 82.5 1223.6 83.9 1229.9 85.7C1236.2 87.6 1243.1 89.6 1249.8 92.7C1256.4 95.9 1263 99.5 1269.7 104.7C1276.3 109.8 1283 116.8 1289.6 123.6C1296.2 130.4 1302.9 139.2 1309.5 145.5C1316.1 151.8 1322.8 156.9 1329.4 161.4C1336 165.9 1342.7 168.5 1349.3 172.3C1355.9 176.2 1362.6 180.8 1369.2 184.3C1375.9 187.8 1383.5 191.5 1389.1 193.2C1394.8 195 1398.8 195.2 1403.1 194.8C1407.4 194.5 1410 193.8 1415 191.3C1420 188.7 1429.9 181.3 1432.9 179.3" stroke="rgba(245,110,245,0.8)" stroke-width="0.8"/>
<path d="M984.3 160.8C986.9 159.6 993.9 155.6 999.8 153.8C1005.7 152.1 1013.1 150.6 1019.7 150.4C1026.4 150.3 1033 151.9 1039.6 153C1046.3 154.1 1052.9 156.1 1059.5 157C1066.2 158 1072.8 158.7 1079.5 158.8C1086.1 158.9 1092.7 158.3 1099.4 157.4C1106 156.5 1112.6 155.3 1119.3 153.4C1125.9 151.6 1132.5 149 1139.2 146.5C1145.8 144 1152.4 140.8 1159.1 138.5C1165.7 136.2 1172.2 133.7 1179 132.5C1185.8 131.4 1193.2 131.4 1200 131.5C1206.8 131.7 1213.3 132.5 1219.9 133.5C1226.5 134.5 1233.2 135.7 1239.8 137.5C1246.5 139.3 1253.1 140.8 1259.7 144.5C1266.4 148.1 1273 152.9 1279.6 159.4C1286.3 165.9 1292.9 176.7 1299.5 183.3C1306.2 189.9 1312.8 195.4 1319.5 199.2C1326.1 203 1332.7 204.4 1339.4 206.2C1346 208 1352.6 208.2 1359.3 210.2C1365.9 212.2 1373.9 216.1 1379.2 218.1C1384.5 220.1 1387.1 221.1 1391.1 222.1C1395.1 223.1 1399.1 224 1403.1 224.1C1407 224.2 1410 224.2 1415 222.7C1420 221.2 1429.9 216.4 1432.9 215.1" stroke="rgba(245,110,245,0.8)" stroke-width="0.8"/>
<path d="M984.3 190.3C986.9 190.6 993.9 192.8 999.8 192.3C1005.7 191.8 1013.1 189.2 1019.7 187.3C1026.4 185.4 1033 182.5 1039.6 180.7C1046.3 178.9 1052.9 177.8 1059.5 176.3C1066.2 174.8 1072.8 173.6 1079.5 171.7C1086.1 169.9 1092.7 167.9 1099.4 165.4C1106 162.8 1112.6 159.7 1119.3 156.4C1125.9 153.1 1132.5 149.3 1139.2 145.5C1145.8 141.7 1153.1 136.7 1159.1 133.5C1165.1 130.4 1170 128.2 1175 126.6C1180 124.9 1184.8 124.1 1188.9 123.6C1193.1 123.1 1194.8 124.1 1200 123.6C1205.2 123.1 1213.3 122.2 1219.9 120.6C1226.5 118.9 1234.2 115.1 1239.8 113.6C1245.5 112.1 1249.4 111.5 1253.8 111.6C1258.1 111.8 1261.4 112.3 1265.7 114.6C1270 116.9 1274.7 120.7 1279.6 125.6C1284.6 130.4 1290.3 137.8 1295.6 143.5C1300.9 149.1 1306.2 155.5 1311.5 159.4C1316.8 163.3 1322.1 165.5 1327.4 167C1332.7 168.5 1338 168.2 1343.3 168.4C1348.6 168.5 1353.3 167.5 1359.3 168C1365.2 168.5 1372.5 169.8 1379.2 171.3C1385.8 172.9 1393.1 175.9 1399.1 177.3C1405.1 178.7 1409.4 179.4 1415 179.7C1420.7 180 1429.9 179 1432.9 178.9L1432.9 215.1C1429.9 215.5 1420.7 217.5 1415 217.5C1409.4 217.5 1405.1 216.5 1399.1 215.1C1393.1 213.8 1385.8 210.9 1379.2 209.2C1372.5 207.5 1365.2 205.5 1359.3 204.8C1353.3 204.1 1348.6 205.1 1343.3 204.8C1338 204.5 1332.7 204.6 1327.4 203.2C1322.1 201.8 1316.8 199.9 1311.5 196.2C1306.2 192.6 1300.9 187.4 1295.6 181.3C1290.3 175.2 1284.9 165.2 1279.6 159.4C1274.3 153.6 1268.4 149.1 1263.7 146.5C1259.1 143.9 1255.7 144 1251.8 143.9C1247.8 143.7 1245.1 144.1 1239.8 145.5C1234.5 146.8 1226.5 150.3 1219.9 151.8C1213.3 153.3 1205.2 153.9 1200 154.4C1194.8 155 1194.1 154.4 1188.9 155C1183.8 155.7 1175.7 156.4 1169 158.4C1162.4 160.5 1155.8 164.1 1149.1 167.4C1142.5 170.7 1135.9 174.8 1129.2 178.3C1122.6 181.8 1115.9 185 1109.3 188.3C1102.7 191.6 1095.7 195.2 1089.4 198.2C1083.1 201.2 1078.1 203.9 1071.5 206.2C1064.9 208.5 1056.2 210.4 1049.6 212.2C1043 213.9 1038 215 1031.7 216.7C1025.4 218.5 1017.4 221.3 1011.8 222.7C1006.1 224.1 1002.4 224.9 997.8 225.1C993.2 225.3 986.5 224.3 984.3 224.1Z" fill="rgba(70,150,230,0.24)" stroke="none"/>
<path d="M984.3 190.3C986.9 190.6 993.9 192.8 999.8 192.3C1005.7 191.8 1013.1 189.2 1019.7 187.3C1026.4 185.4 1033 182.5 1039.6 180.7C1046.3 178.9 1052.9 177.8 1059.5 176.3C1066.2 174.8 1072.8 173.6 1079.5 171.7C1086.1 169.9 1092.7 167.9 1099.4 165.4C1106 162.8 1112.6 159.7 1119.3 156.4C1125.9 153.1 1132.5 149.3 1139.2 145.5C1145.8 141.7 1153.1 136.7 1159.1 133.5C1165.1 130.4 1170 128.2 1175 126.6C1180 124.9 1184.8 124.1 1188.9 123.6C1193.1 123.1 1194.8 124.1 1200 123.6C1205.2 123.1 1213.3 122.2 1219.9 120.6C1226.5 118.9 1234.2 115.1 1239.8 113.6C1245.5 112.1 1249.4 111.5 1253.8 111.6C1258.1 111.8 1261.4 112.3 1265.7 114.6C1270 116.9 1274.7 120.7 1279.6 125.6C1284.6 130.4 1290.3 137.8 1295.6 143.5C1300.9 149.1 1306.2 155.5 1311.5 159.4C1316.8 163.3 1322.1 165.5 1327.4 167C1332.7 168.5 1338 168.2 1343.3 168.4C1348.6 168.5 1353.3 167.5 1359.3 168C1365.2 168.5 1372.5 169.8 1379.2 171.3C1385.8 172.9 1393.1 175.9 1399.1 177.3C1405.1 178.7 1409.4 179.4 1415 179.7C1420.7 180 1429.9 179 1432.9 178.9" stroke="rgba(110,110,250,0.7)" stroke-width="0.8"/>
<path d="M984.3 224.1C986.5 224.3 993.2 225.3 997.8 225.1C1002.4 224.9 1006.1 224.1 1011.8 222.7C1017.4 221.3 1025.4 218.5 1031.7 216.7C1038 215 1043 213.9 1049.6 212.2C1056.2 210.4 1064.9 208.5 1071.5 206.2C1078.1 203.9 1083.1 201.2 1089.4 198.2C1095.7 195.2 1102.7 191.6 1109.3 188.3C1115.9 185 1122.6 181.8 1129.2 178.3C1135.9 174.8 1142.5 170.7 1149.1 167.4C1155.8 164.1 1162.4 160.5 1169 158.4C1175.7 156.4 1183.8 155.7 1188.9 155C1194.1 154.4 1194.8 155 1200 154.4C1205.2 153.9 1213.3 153.3 1219.9 151.8C1226.5 150.3 1234.5 146.8 1239.8 145.5C1245.1 144.1 1247.8 143.7 1251.8 143.9C1255.7 144 1259.1 143.9 1263.7 146.5C1268.4 149.1 1274.3 153.6 1279.6 159.4C1284.9 165.2 1290.3 175.2 1295.6 181.3C1300.9 187.4 1306.2 192.6 1311.5 196.2C1316.8 199.9 1322.1 201.8 1327.4 203.2C1332.7 204.6 1338 204.5 1343.3 204.8C1348.6 205.1 1353.3 204.1 1359.3 204.8C1365.2 205.5 1372.5 207.5 1379.2 209.2C1385.8 210.9 1393.1 213.8 1399.1 215.1C1405.1 216.5 1409.4 217.5 1415 217.5C1420.7 217.5 1429.9 215.5 1432.9 215.1" stroke="rgba(110,110,250,0.7)" stroke-width="0.8"/>
<path d="M984.3 242.8C988.5 241.8 1002.2 238.5 1009.8 236.8C1017.3 235.2 1023.7 233.7 1029.7 232.8C1035.7 232 1040.6 231.7 1045.6 231.9C1050.6 232 1053.9 232.4 1059.5 233.8C1065.2 235.3 1072.8 238.2 1079.5 240.8C1086.1 243.5 1091.1 246.3 1099.4 249.8C1107.7 253.3 1120.9 257.9 1129.2 261.7C1137.5 265.5 1142.5 268.8 1149.1 272.7C1155.8 276.5 1162.4 280.9 1169 284.6C1175.7 288.4 1183.8 292.7 1188.9 295.2C1194.1 297.6 1194.8 297.4 1200 299.1C1205.2 300.9 1213.3 304.1 1219.9 305.5C1226.5 307 1233.2 307.9 1239.8 307.9C1246.5 307.9 1253.1 307.2 1259.7 305.5C1266.4 303.8 1273 301.5 1279.6 297.6C1286.3 293.6 1292.9 287.6 1299.5 281.6C1306.2 275.7 1312.8 267.5 1319.5 261.7C1326.1 255.9 1332.7 251.3 1339.4 246.8C1346 242.3 1352.6 238.3 1359.3 234.8C1365.9 231.4 1373.9 227.7 1379.2 225.9C1384.5 224.1 1387.1 224.1 1391.1 223.9C1395.1 223.7 1398.4 223.7 1403.1 224.9C1407.7 226 1414 228.8 1419 230.9C1424 232.9 1430.6 236.3 1432.9 237.4" stroke="#f0432e" stroke-width="1.2"/>
<path d="M984.3 145.9C986.9 144.7 994.6 140.7 999.8 139.1C1005.1 137.5 1010.4 136.7 1015.7 136.5C1021.1 136.3 1026 137.1 1031.7 137.9C1037.3 138.7 1043.3 140.6 1049.6 141.5C1055.9 142.3 1062.9 143.1 1069.5 143.1C1076.1 143 1082.8 142.1 1089.4 141.1C1096 140.1 1102.7 138.7 1109.3 137.1C1115.9 135.5 1122.6 133.8 1129.2 131.5C1135.9 129.3 1142.5 126.4 1149.1 123.6C1155.8 120.7 1163.1 117.1 1169 114.6C1175 112.1 1179.8 110 1185 108.6C1190.1 107.3 1194.2 106.6 1200 106.6C1205.8 106.6 1213.3 107.5 1219.9 108.6C1226.5 109.7 1233.2 111.2 1239.8 113.2C1246.5 115.2 1253.1 116.9 1259.7 120.6C1266.4 124.3 1273 129.4 1279.6 135.5C1286.3 141.7 1292.9 150.6 1299.5 157.4C1306.2 164.2 1312.8 171.3 1319.5 176.3C1326.1 181.3 1332.7 184.1 1339.4 187.3C1346 190.4 1352.6 192.4 1359.3 195.2C1365.9 198.1 1373.9 202 1379.2 204.2C1384.5 206.4 1387.1 207.4 1391.1 208.2C1395.1 209 1399.1 209.5 1403.1 209.2C1407 208.8 1410 208.2 1415 206.2C1420 204.2 1429.9 198.7 1432.9 197.2" stroke="#e33be3" stroke-width="1.2"/>
<path d="M984.3 207.2C986.5 207.4 993.2 208.7 997.8 208.6C1002.4 208.4 1006.1 207.6 1011.8 206.2C1017.4 204.8 1025.4 201.9 1031.7 200.2C1038 198.5 1043 197.5 1049.6 195.8C1056.2 194.2 1064.9 192.4 1071.5 190.3C1078.1 188.2 1083.1 185.9 1089.4 183.3C1095.7 180.6 1102.7 177.4 1109.3 174.3C1115.9 171.3 1122.6 168.6 1129.2 165C1135.9 161.3 1142.5 156.2 1149.1 152.4C1155.8 148.7 1163.1 144.7 1169 142.5C1175 140.3 1179.8 139.8 1185 139.1C1190.1 138.4 1194.2 138.9 1200 138.5C1205.8 138.1 1213.3 137.8 1219.9 136.5C1226.5 135.2 1234.5 131.9 1239.8 130.5C1245.1 129.1 1248.4 128.4 1251.8 128.1C1255.1 127.9 1255.7 127.4 1259.7 128.9C1263.7 130.5 1270.3 133.1 1275.7 137.5C1281 141.9 1286.3 149.5 1291.6 155.4C1296.9 161.4 1302.2 168.7 1307.5 173.3C1312.8 178 1318.1 181.1 1323.4 183.3C1328.7 185.5 1333.4 186.2 1339.4 186.7C1345.3 187.2 1352.6 185.7 1359.3 186.3C1365.9 186.9 1372.5 188.6 1379.2 190.3C1385.8 191.9 1393.1 194.8 1399.1 196.2C1405.1 197.6 1409.4 198.4 1415 198.6C1420.7 198.9 1429.9 198 1432.9 197.8" stroke="#3a44ee" stroke-width="1.2"/>
<path d="M980 41.5V392.2H1431.3" stroke="#333" stroke-width="1.5"/>
<path d="M1055.6 392.2v-7.2M1130.4 392.2v-7.2M1206.5 392.2v-7.2M1281.6 392.2v-7.2M1357.3 392.2v-7.2M1431 392.2v-7.2M980 109.7h6.2M980 223h6.2M980 335.4h6.2" stroke="#333" stroke-width="1.3"/>
<line x1="1070.8" y1="44.6" x2="1003.4" y2="109.4" stroke="#000" stroke-width="4.6"/>
<polygon points="995.2,117.3 1002.3,101.8 1004.2,109.6 1011.4,111.4" fill="#000"/>
</g>
<text x="1093.2" y="42.3" font-size="28" font-weight="normal" textLength="287.1" lengthAdjust="spacingAndGlyphs">Baseline goal progress</text>
<text x="1063.9" y="463.7" font-size="28" font-weight="normal" textLength="310.9" lengthAdjust="spacingAndGlyphs">Time from offer onset (s)</text>
<text transform="translate(903.4 216.3) rotate(-90)" x="-164.5" y="0" font-size="28" textLength="329" lengthAdjust="spacingAndGlyphs">Effect on vmPFC BOLD (<tspan font-style="italic">β</tspan>)</text>
<text x="980" y="419.6" font-size="23" text-anchor="middle">0</text>
<text x="1055.6" y="419.6" font-size="23" text-anchor="middle">2</text>
<text x="1130.4" y="419.6" font-size="23" text-anchor="middle">4</text>
<text x="1206.5" y="419.6" font-size="23" text-anchor="middle">6</text>
<text x="1281.3" y="419.6" font-size="23" text-anchor="middle">8</text>
<text x="1340.3" y="419.6" font-size="23" font-weight="normal" textLength="24" lengthAdjust="spacingAndGlyphs">10</text>
<text x="1412.6" y="419.6" font-size="23" font-weight="normal" textLength="22" lengthAdjust="spacingAndGlyphs">12</text>
<text x="940.9" y="117.4" font-size="23" font-weight="normal" textLength="27.4" lengthAdjust="spacingAndGlyphs">0.1</text>
<text x="969.3" y="227.8" font-size="23" text-anchor="end">0</text>
<text x="927.7" y="347.2" font-size="23" font-weight="normal" textLength="40.9" lengthAdjust="spacingAndGlyphs">−0.1</text>
<rect x="900.5" y="506" width="23.7" height="23.4" fill="#7030a0"/>
<rect x="1197" y="506" width="23.7" height="23.4" fill="#41a8e0"/>
<rect x="900.5" y="559" width="23.7" height="23.6" fill="#e97132"/>
<text x="937" y="526" font-size="28" font-weight="normal" textLength="177.3" lengthAdjust="spacingAndGlyphs">Goal progress</text>
<text x="1233" y="527" font-size="28" font-weight="normal" textLength="234" lengthAdjust="spacingAndGlyphs">Current goal value</text>
<text x="937" y="579.3" font-size="28" font-weight="normal" textLength="274.7" lengthAdjust="spacingAndGlyphs">Alternative goal value</text>
<g id="scatter-d">
<rect x="350.5" y="660.7" width="335.4" height="351.7" fill="#fff" stroke="#333" stroke-width="1.3"/>
<path d="M426.4 1012.4v8M512.8 1012.4v8M599.2 1012.4v8M350.5 725.9h-8M350.5 825h-8M350.5 924.2h-8" stroke="#333" stroke-width="1.3" fill="none"/>
<g fill="#63b85a" stroke="#3c9c3c" stroke-width="1.7">
<circle cx="555.3" cy="677.2" r="2.3"/>
<circle cx="488.7" cy="786.1" r="2.3"/>
<circle cx="553.2" cy="783" r="2.3"/>
<circle cx="627.2" cy="777.7" r="2.3"/>
<circle cx="565.4" cy="799.7" r="2.3"/>
<circle cx="670.4" cy="803" r="2.3"/>
<circle cx="568.5" cy="815.4" r="2.3"/>
<circle cx="533.1" cy="819.5" r="2.3"/>
<circle cx="496.6" cy="824.3" r="2.3"/>
<circle cx="507.1" cy="825.2" r="2.3"/>
<circle cx="645.8" cy="818.5" r="2.3"/>
<circle cx="662.3" cy="818.5" r="2.3"/>
<circle cx="605.7" cy="831" r="2.3"/>
<circle cx="494.7" cy="841.7" r="2.3"/>
<circle cx="555.6" cy="844.8" r="2.3"/>
<circle cx="610.2" cy="846.7" r="2.3"/>
<circle cx="440.5" cy="868" r="2.3"/>
<circle cx="629.3" cy="871.4" r="2.3"/>
<circle cx="617.9" cy="875.8" r="2.3"/>
<circle cx="577" cy="883.2" r="2.3"/>
<circle cx="483.2" cy="887.1" r="2.3"/>
<circle cx="362.9" cy="908.9" r="2.3"/>
<circle cx="450.8" cy="906.5" r="2.3"/>
<circle cx="498.7" cy="912.5" r="2.3"/>
<circle cx="513.6" cy="924.6" r="2.3"/>
<circle cx="483" cy="939" r="2.3"/>
<circle cx="550.6" cy="939.9" r="2.3"/>
<circle cx="531.5" cy="967.1" r="2.3"/>
<circle cx="496.1" cy="972.9" r="2.3"/>
<circle cx="477.5" cy="998.4" r="2.3"/>
</g>
<line x1="362.2" y1="931" x2="671.6" y2="806.5" stroke="#000" stroke-width="4.4"/>
</g>
<g id="scatter-e">
<rect x="1174.5" y="666.2" width="329.3" height="350.3" fill="#fff" stroke="#333" stroke-width="1.3"/>
<path d="M1252.5 1016.5v8M1335.6 1016.5v8M1418.6 1016.5v8M1501.6 1016.5v8M1174.5 730.9h-8M1174.5 830.1h-8M1174.5 928.8h-8" stroke="#333" stroke-width="1.3" fill="none"/>
<g fill="#63b85a" stroke="#3c9c3c" stroke-width="1.7">
<circle cx="1385.8" cy="680.9" r="2.3"/>
<circle cx="1306.8" cy="781.1" r="2.3"/>
<circle cx="1267.1" cy="786.8" r="2.3"/>
<circle cx="1307.3" cy="803.5" r="2.3"/>
<circle cx="1319.2" cy="806.8" r="2.3"/>
<circle cx="1489.7" cy="789.7" r="2.3"/>
<circle cx="1298.7" cy="819.4" r="2.3"/>
<circle cx="1296.8" cy="823.4" r="2.3"/>
<circle cx="1269.2" cy="822" r="2.3"/>
<circle cx="1279.9" cy="827.7" r="2.3"/>
<circle cx="1188.3" cy="828.7" r="2.3"/>
<circle cx="1406.2" cy="822" r="2.3"/>
<circle cx="1335.3" cy="834.4" r="2.3"/>
<circle cx="1242.5" cy="845.6" r="2.3"/>
<circle cx="1257.1" cy="848.2" r="2.3"/>
<circle cx="1281.3" cy="850.6" r="2.3"/>
<circle cx="1239.9" cy="871.6" r="2.3"/>
<circle cx="1272" cy="879.7" r="2.3"/>
<circle cx="1408.9" cy="874.9" r="2.3"/>
<circle cx="1318.4" cy="887.3" r="2.3"/>
<circle cx="1226.8" cy="891.1" r="2.3"/>
<circle cx="1238.7" cy="912.5" r="2.3"/>
<circle cx="1259.7" cy="909.7" r="2.3"/>
<circle cx="1264.2" cy="915.7" r="2.3"/>
<circle cx="1279.9" cy="928.5" r="2.3"/>
<circle cx="1241.8" cy="943.3" r="2.3"/>
<circle cx="1377.2" cy="942.6" r="2.3"/>
<circle cx="1258.2" cy="970.2" r="2.3"/>
<circle cx="1243" cy="976.3" r="2.3"/>
<circle cx="1269" cy="1002" r="2.3"/>
</g>
<line x1="1186.4" y1="906.8" x2="1491.2" y2="780.6" stroke="#000" stroke-width="4.4"/>
</g>
<text x="298.6" y="733.2" font-size="23" font-weight="normal" textLength="33" lengthAdjust="spacingAndGlyphs">0.2</text>
<text x="302" y="831.9" font-size="23" font-weight="normal" textLength="29.1" lengthAdjust="spacingAndGlyphs">0.1</text>
<text x="331.2" y="930.6" font-size="23" text-anchor="end">0</text>
<text x="395.4" y="1049" font-size="23" font-weight="normal" textLength="61.1" lengthAdjust="spacingAndGlyphs">−0.02</text>
<text x="512.6" y="1049" font-size="23" text-anchor="middle">0</text>
<text x="575.1" y="1049" font-size="23" font-weight="normal" textLength="48.5" lengthAdjust="spacingAndGlyphs">0.02</text>
<text x="579.9" y="941.6" font-size="23" font-weight="normal" textLength="80" lengthAdjust="spacingAndGlyphs"><tspan font-style="italic">r</tspan> = 0.48</text>
<text x="570.4" y="976.2" font-size="23" font-weight="normal" textLength="100.2" lengthAdjust="spacingAndGlyphs"><tspan font-style="italic">P</tspan> = 0.007</text>
<text x="370.6" y="1095.1" font-size="28" font-weight="normal" textLength="295.3" lengthAdjust="spacingAndGlyphs">Goal-oriented attention</text>
<text x="439.1" y="1126.6" font-size="28" font-weight="normal" textLength="158.7" lengthAdjust="spacingAndGlyphs">(spatial task)</text>
<text transform="translate(240.1 836.4) rotate(-90)" x="-99.7" y="0" font-size="28" textLength="199.4" lengthAdjust="spacingAndGlyphs">Baseline vmPFC</text>
<text transform="translate(271.2 836.4) rotate(-90)" x="-106.7" y="0" font-size="28" textLength="213.4" lengthAdjust="spacingAndGlyphs">goal progress (<tspan font-style="italic">β</tspan>)</text>
<text x="1121.7" y="737.8" font-size="23" font-weight="normal" textLength="33.2" lengthAdjust="spacingAndGlyphs">0.2</text>
<text x="1125.1" y="837.1" font-size="23" font-weight="normal" textLength="29.8" lengthAdjust="spacingAndGlyphs">0.1</text>
<text x="1154.6" y="936.1" font-size="23" text-anchor="end">0</text>
<text x="1252.5" y="1053" font-size="23" text-anchor="middle">2</text>
<text x="1335.6" y="1053" font-size="23" text-anchor="middle">4</text>
<text x="1418.6" y="1053" font-size="23" text-anchor="middle">6</text>
<text x="1501.6" y="1053" font-size="23" text-anchor="middle">8</text>
<text x="1399.3" y="941.6" font-size="23" font-weight="normal" textLength="80.9" lengthAdjust="spacingAndGlyphs"><tspan font-style="italic">r</tspan> = 0.46</text>
<text x="1396.7" y="981.6" font-size="23" font-weight="normal" textLength="89.9" lengthAdjust="spacingAndGlyphs"><tspan font-style="italic">P</tspan> = 0.011</text>
<text x="1238.5" y="1094.6" font-size="28" font-weight="normal" textLength="202.2" lengthAdjust="spacingAndGlyphs">Persistence bias</text>
<text x="1248.7" y="1126.7" font-size="28" font-weight="normal" textLength="180.8" lengthAdjust="spacingAndGlyphs">(decision task)</text>
<text transform="translate(1061 841) rotate(-90)" x="-99.7" y="0" font-size="28" textLength="199.4" lengthAdjust="spacingAndGlyphs">Baseline vmPFC</text>
<text transform="translate(1092 841.5) rotate(-90)" x="-107.2" y="0" font-size="28" textLength="214.3" lengthAdjust="spacingAndGlyphs">goal progress (<tspan font-style="italic">β</tspan>)</text>
<g transform="translate(39 704) scale(0.1193) translate(-148 -118)" filter="url(#blsoft)">
<path d="M600 118C625.3 118.5 645.5 124.5 672 128C698.5 131.5 735 134.7 759 139C783 143.3 795.8 146.8 816 154C836.2 161.2 856.3 170.3 880 182C903.7 193.7 933 207.3 958 224C983 240.7 1010.3 263.3 1030 282C1049.7 300.7 1062.7 316.7 1076 336C1089.3 355.3 1100.5 376 1110 398C1119.5 420 1129 447.7 1133 468C1137 488.3 1136 502.2 1134 520C1132 537.8 1124.8 557 1121 575C1117.2 593 1115.8 612.5 1111 628C1106.2 643.5 1100.2 655.7 1092 668C1083.8 680.3 1073.7 692.7 1062 702C1050.3 711.3 1034.8 718 1022 724C1009.2 730 995.3 735 985 738C974.7 741 969.2 743.7 960 742C950.8 740.3 943.3 733.7 930 728C916.7 722.3 896.7 715.2 880 708C863.3 700.8 845 691.7 830 685C815 678.3 799.7 667.2 790 668C780.3 668.8 779 691 772 690C765 689 756.3 670.3 748 662C739.7 653.7 729.7 648.3 722 640C714.3 631.7 708 612 702 612C696 612 690.2 630.3 686 640C681.8 649.7 678 660 677 670C676 680 681.8 686.7 680 700C678.2 713.3 673.7 733.3 666 750C658.3 766.7 645.5 786.3 634 800C622.5 813.7 607.7 820 597 832C586.3 844 578.5 857.3 570 872C561.5 886.7 554 905 546 920C538 935 538.8 955 522 962C505.2 969 456.2 969 445 962C433.8 955 451.2 934 455 920C458.8 906 468.8 885.7 468 878C467.2 870.3 456.3 872.3 450 874C443.7 875.7 438.3 885.3 430 888C421.7 890.7 409.2 894.3 400 890C390.8 885.7 385 870.7 375 862C365 853.3 352.5 848 340 838C327.5 828 313 814.7 300 802C287 789.3 272 777 262 762C252 747 242 724.7 240 712C238 699.3 252 693.3 250 686C248 678.7 238 677.3 228 668C218 658.7 201.3 646 190 630C178.7 614 167.2 592 160 572C152.8 552 145.8 530.3 147 510C148.2 489.7 158 469.3 167 450C176 430.7 191.5 411.5 201 394C210.5 376.5 214.5 359.8 224 345C233.5 330.2 249.3 318.2 258 305C266.7 291.8 268 279.8 276 266C284 252.2 295.3 233.2 306 222C316.7 210.8 325.7 208.3 340 199C354.3 189.7 373.3 176 392 166C410.7 156 430.7 145.8 452 139C473.3 132.2 495.3 128.5 520 125C544.7 121.5 574.7 117.5 600 118Z" fill="#dadada"/>
<g clip-path="url(#bclip)">
<g filter="url(#bl10)" fill="none" stroke-linecap="round">
<path d="M600 118C625.3 118.5 645.5 124.5 672 128C698.5 131.5 735 134.7 759 139C783 143.3 795.8 146.8 816 154C836.2 161.2 856.3 170.3 880 182C903.7 193.7 933 207.3 958 224C983 240.7 1010.3 263.3 1030 282C1049.7 300.7 1062.7 316.7 1076 336C1089.3 355.3 1100.5 376 1110 398C1119.5 420 1129 447.7 1133 468C1137 488.3 1136 502.2 1134 520C1132 537.8 1124.8 557 1121 575C1117.2 593 1115.8 612.5 1111 628C1106.2 643.5 1100.2 655.7 1092 668C1083.8 680.3 1073.7 692.7 1062 702C1050.3 711.3 1034.8 718 1022 724C1009.2 730 995.3 735 985 738C974.7 741 969.2 743.7 960 742C950.8 740.3 943.3 733.7 930 728C916.7 722.3 896.7 715.2 880 708C863.3 700.8 845 691.7 830 685C815 678.3 799.7 667.2 790 668C780.3 668.8 779 691 772 690C765 689 756.3 670.3 748 662C739.7 653.7 729.7 648.3 722 640C714.3 631.7 708 612 702 612C696 612 690.2 630.3 686 640C681.8 649.7 678 660 677 670C676 680 681.8 686.7 680 700C678.2 713.3 673.7 733.3 666 750C658.3 766.7 645.5 786.3 634 800C622.5 813.7 607.7 820 597 832C586.3 844 578.5 857.3 570 872C561.5 886.7 554 905 546 920C538 935 538.8 955 522 962C505.2 969 456.2 969 445 962C433.8 955 451.2 934 455 920C458.8 906 468.8 885.7 468 878C467.2 870.3 456.3 872.3 450 874C443.7 875.7 438.3 885.3 430 888C421.7 890.7 409.2 894.3 400 890C390.8 885.7 385 870.7 375 862C365 853.3 352.5 848 340 838C327.5 828 313 814.7 300 802C287 789.3 272 777 262 762C252 747 242 724.7 240 712C238 699.3 252 693.3 250 686C248 678.7 238 677.3 228 668C218 658.7 201.3 646 190 630C178.7 614 167.2 592 160 572C152.8 552 145.8 530.3 147 510C148.2 489.7 158 469.3 167 450C176 430.7 191.5 411.5 201 394C210.5 376.5 214.5 359.8 224 345C233.5 330.2 249.3 318.2 258 305C266.7 291.8 268 279.8 276 266C284 252.2 295.3 233.2 306 222C316.7 210.8 325.7 208.3 340 199C354.3 189.7 373.3 176 392 166C410.7 156 430.7 145.8 452 139C473.3 132.2 495.3 128.5 520 125C544.7 121.5 574.7 117.5 600 118Z" stroke="#c2c2c2" stroke-width="30"/>
<path d="M470 440C478.3 430 498.3 393 520 380C541.7 367 570 365.3 600 362C630 358.7 666.7 356.2 700 360C733.3 363.8 770 373.3 800 385C830 396.7 858.3 412.5 880 430C901.7 447.5 918.3 468.3 930 490C941.7 511.7 946.7 548.3 950 560" stroke="#e2e2e2" stroke-width="34"/>
<path d="M210 560C213.3 540 215 478.3 230 440C245 401.7 271.7 363.3 300 330C328.3 296.7 363.3 263.3 400 240C436.7 216.7 473.3 200 520 190C566.7 180 630 175 680 180C730 185 776.7 200 820 220C863.3 240 905 268.3 940 300C975 331.7 1008.3 373.3 1030 410C1051.7 446.7 1066.7 481.7 1070 520C1073.3 558.3 1053.3 620 1050 640" stroke="#e2e2e2" stroke-width="30"/>
<path d="M455 460C459.2 448.3 462.5 409.2 480 390C497.5 370.8 526.7 355 560 345C593.3 335 640 329.2 680 330C720 330.8 763.3 338.3 800 350C836.7 361.7 873.3 380 900 400C926.7 420 945.8 446.7 960 470C974.2 493.3 982.5 518.3 985 540C987.5 561.7 976.7 590 975 600" stroke="#b6b6b6" stroke-width="20"/>
<path d="M290 285C296.7 295.8 315 325 330 350C345 375 364.2 406.7 380 435C395.8 463.3 417.5 505.8 425 520" stroke="#b6b6b6" stroke-width="20"/>
<path d="M200 470C210 478.3 236.7 508.3 260 520C283.3 531.7 315 536.7 340 540C365 543.3 398.3 540 410 540" stroke="#b6b6b6" stroke-width="20"/>
<path d="M480 170C483.3 180 490 213.7 500 230C510 246.3 523.3 264.7 540 268C556.7 271.3 590 253 600 250" stroke="#b6b6b6" stroke-width="20"/>
<path d="M620 150C618.7 158.3 608.7 183.7 612 200C615.3 216.3 628.7 242.7 640 248C651.3 253.3 673.3 234.7 680 232" stroke="#b6b6b6" stroke-width="20"/>
<path d="M740 160C741.3 167.5 746.3 190 748 205C749.7 220 749.7 242.5 750 250" stroke="#b6b6b6" stroke-width="20"/>
<path d="M820 190C818 197.5 811.3 220 808 235C804.7 250 801.3 272.5 800 280" stroke="#b6b6b6" stroke-width="20"/>
<path d="M900 230C897.3 236.7 889 256.7 884 270C879 283.3 872.3 303.3 870 310" stroke="#b6b6b6" stroke-width="20"/>
<path d="M960 280C956.7 285.8 946.7 303.3 940 315C933.3 326.7 923.3 344.2 920 350" stroke="#b6b6b6" stroke-width="20"/>
<path d="M1020 340C1015.8 345 1003.3 360 995 370C986.7 380 974.2 395 970 400" stroke="#b6b6b6" stroke-width="20"/>
<path d="M1070 420C1064.2 423.3 1046.7 433.3 1035 440C1023.3 446.7 1005.8 456.7 1000 460" stroke="#b6b6b6" stroke-width="20"/>
<path d="M1090 520C1083.3 521.7 1063.3 526.7 1050 530C1036.7 533.3 1016.7 538.3 1010 540" stroke="#b6b6b6" stroke-width="20"/>
<path d="M380 220C383.3 230 390 263.3 400 280C410 296.7 426.7 311.7 440 320C453.3 328.3 473.3 328.3 480 330" stroke="#b6b6b6" stroke-width="20"/>
<path d="M250 350C257.5 354.2 280 366.7 295 375C310 383.3 332.5 395.8 340 400" stroke="#b6b6b6" stroke-width="20"/>
<path d="M1080 640C1066.7 641.7 1025 652.5 1000 650C975 647.5 950 633.3 930 625C910 616.7 888.3 604.2 880 600" stroke="#b6b6b6" stroke-width="20"/>
<path d="M190 580C200 585 228.3 606.7 250 610C271.7 613.3 308.3 601.7 320 600" stroke="#b6b6b6" stroke-width="20"/>
</g>
<g filter="url(#bl3)">
<path d="M306 660C320.7 647 341 621.7 360 606C379 590.3 401.7 568.3 420 566C438.3 563.7 454.7 579.7 470 592C485.3 604.3 506.7 622 512 640C517.3 658 509.7 683 502 700C494.3 717 469.3 728.3 466 742C462.7 755.7 481.3 764.7 482 782C482.7 799.3 478.3 831 470 846C461.7 861 443 867.7 432 872C421 876.3 412 876 404 872C396 868 393 856.3 384 848C375 839.7 362 832 350 822C338 812 324 799.7 312 788C300 776.3 286.7 765 278 752C269.3 739 261 721.3 260 710C259 698.7 264.3 692.3 272 684C279.7 675.7 291.3 673 306 660Z" fill="#dadada"/>
<ellipse cx="650" cy="525" rx="66" ry="44" fill="#dedede"/>
<path d="M540 600C552.3 588 581.7 564.7 600 560C618.3 555.3 635.7 562.3 650 572C664.3 581.7 681.3 598.3 686 618C690.7 637.7 681.7 666.3 678 690C674.3 713.7 674 739.7 664 760C654 780.3 632 796.7 618 812C604 827.3 592 834 580 852C568 870 555.7 901.7 546 920C536.3 938.3 538.8 955 522 962C505.2 969 453.7 978.7 445 962C436.3 945.3 460.8 895.3 470 862C479.2 828.7 491.7 792 500 762C508.3 732 515.7 703.7 520 682C524.3 660.3 522.7 645.7 526 632C529.3 618.3 527.7 612 540 600Z" fill="#ececec"/>
<path d="M690 440C706.3 440.8 755 450 780 460C805 470 826.3 486.7 840 500C853.7 513.3 862.7 531.3 862 540C861.3 548.7 846.3 552 836 552C825.7 552 811 547.7 800 540C789 532.3 783.3 517.7 770 506C756.7 494.3 734.7 478.5 720 470C705.3 461.5 687 460 682 455C677 450 673.7 439.2 690 440Z" fill="#ffffff"/>
<path d="M600 470C613.3 467.5 656.7 454.2 680 455C703.3 455.8 721.7 464.2 740 475C758.3 485.8 777.5 503.3 790 520C802.5 536.7 811.3 558.3 815 575C818.7 591.7 812.5 612.5 812 620" fill="none" stroke="#e9e9e9" stroke-width="20"/>
<path d="M490 482C494.7 470.3 505 448 520 436C535 424 553.3 416 580 410C606.7 404 646.7 398.3 680 400C713.3 401.7 750 410 780 420C810 430 839.2 445 860 460C880.8 475 895.3 493.3 905 510C914.7 526.7 918.8 546.3 918 560C917.2 573.7 907.7 587.7 900 592C892.3 596.3 875.3 594.3 872 586C868.7 577.7 883.7 556.3 880 542C876.3 527.7 865 514.3 850 500C835 485.7 815 467.2 790 456C765 444.8 728.3 436.3 700 433C671.7 429.7 641.3 432.2 620 436C598.7 439.8 582 447 572 456C562 465 564.5 479 560 490C555.5 501 553.3 515.8 545 522C536.7 528.2 518.8 529.7 510 527C501.2 524.3 495.3 513.5 492 506C488.7 498.5 485.3 493.7 490 482Z" fill="#fbfbfb"/>
<g fill="none" stroke="#b6b6b6" stroke-width="9" opacity="0.45">
<path d="M470 700L300 690M465 705L290 770M470 715L360 840M480 720L440 870M468 695L340 625M472 690L420 580"/>
</g>
</g>
</g>
<ellipse cx="748" cy="730" rx="36" ry="17" fill="#f0f0f0" transform="rotate(-12 748 730)"/>
<path d="M700 770L722 735" stroke="#dadada" stroke-width="9" fill="none"/>
<path d="M404 532C406.7 521.7 433.3 497.7 446 494C458.7 490.3 467 500 480 510C493 520 516.3 541.7 524 554C531.7 566.3 530.7 574.3 526 584C521.3 593.7 506.7 611.7 496 612C485.3 612.3 473 595.3 462 586C451 576.7 439.7 565 430 556C420.3 547 401.3 542.3 404 532Z" fill="#fff"/>
<path d="M464 736C468.8 724 494.5 696 504 690C513.5 684 519.8 691.3 521 700C522.2 708.7 516.2 730 511 742C505.8 754 496 768.7 490 772C484 775.3 479.3 768 475 762C470.7 756 459.2 748 464 736Z" fill="#fff"/>
<path d="M700 640C705 637.8 714 646.7 722 652C730 657.3 741.7 665.3 748 672C754.3 678.7 762.2 687.3 760 692C757.8 696.7 744.2 700.3 735 700C725.8 699.7 712.2 695.8 705 690C697.8 684.2 692.8 673.3 692 665C691.2 656.7 695 642.2 700 640Z" fill="#fff"/>
</g>
<rect x="139.8" y="759.5" width="4.2" height="4.2" fill="#ff0000"/>
<g transform="translate(832.7 694) scale(0.1193) translate(-148 -118)" filter="url(#blsoft)">
<path d="M600 118C625.3 118.5 645.5 124.5 672 128C698.5 131.5 735 134.7 759 139C783 143.3 795.8 146.8 816 154C836.2 161.2 856.3 170.3 880 182C903.7 193.7 933 207.3 958 224C983 240.7 1010.3 263.3 1030 282C1049.7 300.7 1062.7 316.7 1076 336C1089.3 355.3 1100.5 376 1110 398C1119.5 420 1129 447.7 1133 468C1137 488.3 1136 502.2 1134 520C1132 537.8 1124.8 557 1121 575C1117.2 593 1115.8 612.5 1111 628C1106.2 643.5 1100.2 655.7 1092 668C1083.8 680.3 1073.7 692.7 1062 702C1050.3 711.3 1034.8 718 1022 724C1009.2 730 995.3 735 985 738C974.7 741 969.2 743.7 960 742C950.8 740.3 943.3 733.7 930 728C916.7 722.3 896.7 715.2 880 708C863.3 700.8 845 691.7 830 685C815 678.3 799.7 667.2 790 668C780.3 668.8 779 691 772 690C765 689 756.3 670.3 748 662C739.7 653.7 729.7 648.3 722 640C714.3 631.7 708 612 702 612C696 612 690.2 630.3 686 640C681.8 649.7 678 660 677 670C676 680 681.8 686.7 680 700C678.2 713.3 673.7 733.3 666 750C658.3 766.7 645.5 786.3 634 800C622.5 813.7 607.7 820 597 832C586.3 844 578.5 857.3 570 872C561.5 886.7 554 905 546 920C538 935 538.8 955 522 962C505.2 969 456.2 969 445 962C433.8 955 451.2 934 455 920C458.8 906 468.8 885.7 468 878C467.2 870.3 456.3 872.3 450 874C443.7 875.7 438.3 885.3 430 888C421.7 890.7 409.2 894.3 400 890C390.8 885.7 385 870.7 375 862C365 853.3 352.5 848 340 838C327.5 828 313 814.7 300 802C287 789.3 272 777 262 762C252 747 242 724.7 240 712C238 699.3 252 693.3 250 686C248 678.7 238 677.3 228 668C218 658.7 201.3 646 190 630C178.7 614 167.2 592 160 572C152.8 552 145.8 530.3 147 510C148.2 489.7 158 469.3 167 450C176 430.7 191.5 411.5 201 394C210.5 376.5 214.5 359.8 224 345C233.5 330.2 249.3 318.2 258 305C266.7 291.8 268 279.8 276 266C284 252.2 295.3 233.2 306 222C316.7 210.8 325.7 208.3 340 199C354.3 189.7 373.3 176 392 166C410.7 156 430.7 145.8 452 139C473.3 132.2 495.3 128.5 520 125C544.7 121.5 574.7 117.5 600 118Z" fill="#dadada"/>
<g clip-path="url(#bclip)">
<g filter="url(#bl10)" fill="none" stroke-linecap="round">
<path d="M600 118C625.3 118.5 645.5 124.5 672 128C698.5 131.5 735 134.7 759 139C783 143.3 795.8 146.8 816 154C836.2 161.2 856.3 170.3 880 182C903.7 193.7 933 207.3 958 224C983 240.7 1010.3 263.3 1030 282C1049.7 300.7 1062.7 316.7 1076 336C1089.3 355.3 1100.5 376 1110 398C1119.5 420 1129 447.7 1133 468C1137 488.3 1136 502.2 1134 520C1132 537.8 1124.8 557 1121 575C1117.2 593 1115.8 612.5 1111 628C1106.2 643.5 1100.2 655.7 1092 668C1083.8 680.3 1073.7 692.7 1062 702C1050.3 711.3 1034.8 718 1022 724C1009.2 730 995.3 735 985 738C974.7 741 969.2 743.7 960 742C950.8 740.3 943.3 733.7 930 728C916.7 722.3 896.7 715.2 880 708C863.3 700.8 845 691.7 830 685C815 678.3 799.7 667.2 790 668C780.3 668.8 779 691 772 690C765 689 756.3 670.3 748 662C739.7 653.7 729.7 648.3 722 640C714.3 631.7 708 612 702 612C696 612 690.2 630.3 686 640C681.8 649.7 678 660 677 670C676 680 681.8 686.7 680 700C678.2 713.3 673.7 733.3 666 750C658.3 766.7 645.5 786.3 634 800C622.5 813.7 607.7 820 597 832C586.3 844 578.5 857.3 570 872C561.5 886.7 554 905 546 920C538 935 538.8 955 522 962C505.2 969 456.2 969 445 962C433.8 955 451.2 934 455 920C458.8 906 468.8 885.7 468 878C467.2 870.3 456.3 872.3 450 874C443.7 875.7 438.3 885.3 430 888C421.7 890.7 409.2 894.3 400 890C390.8 885.7 385 870.7 375 862C365 853.3 352.5 848 340 838C327.5 828 313 814.7 300 802C287 789.3 272 777 262 762C252 747 242 724.7 240 712C238 699.3 252 693.3 250 686C248 678.7 238 677.3 228 668C218 658.7 201.3 646 190 630C178.7 614 167.2 592 160 572C152.8 552 145.8 530.3 147 510C148.2 489.7 158 469.3 167 450C176 430.7 191.5 411.5 201 394C210.5 376.5 214.5 359.8 224 345C233.5 330.2 249.3 318.2 258 305C266.7 291.8 268 279.8 276 266C284 252.2 295.3 233.2 306 222C316.7 210.8 325.7 208.3 340 199C354.3 189.7 373.3 176 392 166C410.7 156 430.7 145.8 452 139C473.3 132.2 495.3 128.5 520 125C544.7 121.5 574.7 117.5 600 118Z" stroke="#c2c2c2" stroke-width="30"/>
<path d="M470 440C478.3 430 498.3 393 520 380C541.7 367 570 365.3 600 362C630 358.7 666.7 356.2 700 360C733.3 363.8 770 373.3 800 385C830 396.7 858.3 412.5 880 430C901.7 447.5 918.3 468.3 930 490C941.7 511.7 946.7 548.3 950 560" stroke="#e2e2e2" stroke-width="34"/>
<path d="M210 560C213.3 540 215 478.3 230 440C245 401.7 271.7 363.3 300 330C328.3 296.7 363.3 263.3 400 240C436.7 216.7 473.3 200 520 190C566.7 180 630 175 680 180C730 185 776.7 200 820 220C863.3 240 905 268.3 940 300C975 331.7 1008.3 373.3 1030 410C1051.7 446.7 1066.7 481.7 1070 520C1073.3 558.3 1053.3 620 1050 640" stroke="#e2e2e2" stroke-width="30"/>
<path d="M455 460C459.2 448.3 462.5 409.2 480 390C497.5 370.8 526.7 355 560 345C593.3 335 640 329.2 680 330C720 330.8 763.3 338.3 800 350C836.7 361.7 873.3 380 900 400C926.7 420 945.8 446.7 960 470C974.2 493.3 982.5 518.3 985 540C987.5 561.7 976.7 590 975 600" stroke="#b6b6b6" stroke-width="20"/>
<path d="M290 285C296.7 295.8 315 325 330 350C345 375 364.2 406.7 380 435C395.8 463.3 417.5 505.8 425 520" stroke="#b6b6b6" stroke-width="20"/>
<path d="M200 470C210 478.3 236.7 508.3 260 520C283.3 531.7 315 536.7 340 540C365 543.3 398.3 540 410 540" stroke="#b6b6b6" stroke-width="20"/>
<path d="M480 170C483.3 180 490 213.7 500 230C510 246.3 523.3 264.7 540 268C556.7 271.3 590 253 600 250" stroke="#b6b6b6" stroke-width="20"/>
<path d="M620 150C618.7 158.3 608.7 183.7 612 200C615.3 216.3 628.7 242.7 640 248C651.3 253.3 673.3 234.7 680 232" stroke="#b6b6b6" stroke-width="20"/>
<path d="M740 160C741.3 167.5 746.3 190 748 205C749.7 220 749.7 242.5 750 250" stroke="#b6b6b6" stroke-width="20"/>
<path d="M820 190C818 197.5 811.3 220 808 235C804.7 250 801.3 272.5 800 280" stroke="#b6b6b6" stroke-width="20"/>
<path d="M900 230C897.3 236.7 889 256.7 884 270C879 283.3 872.3 303.3 870 310" stroke="#b6b6b6" stroke-width="20"/>
<path d="M960 280C956.7 285.8 946.7 303.3 940 315C933.3 326.7 923.3 344.2 920 350" stroke="#b6b6b6" stroke-width="20"/>
<path d="M1020 340C1015.8 345 1003.3 360 995 370C986.7 380 974.2 395 970 400" stroke="#b6b6b6" stroke-width="20"/>
<path d="M1070 420C1064.2 423.3 1046.7 433.3 1035 440C1023.3 446.7 1005.8 456.7 1000 460" stroke="#b6b6b6" stroke-width="20"/>
<path d="M1090 520C1083.3 521.7 1063.3 526.7 1050 530C1036.7 533.3 1016.7 538.3 1010 540" stroke="#b6b6b6" stroke-width="20"/>
<path d="M380 220C383.3 230 390 263.3 400 280C410 296.7 426.7 311.7 440 320C453.3 328.3 473.3 328.3 480 330" stroke="#b6b6b6" stroke-width="20"/>
<path d="M250 350C257.5 354.2 280 366.7 295 375C310 383.3 332.5 395.8 340 400" stroke="#b6b6b6" stroke-width="20"/>
<path d="M1080 640C1066.7 641.7 1025 652.5 1000 650C975 647.5 950 633.3 930 625C910 616.7 888.3 604.2 880 600" stroke="#b6b6b6" stroke-width="20"/>
<path d="M190 580C200 585 228.3 606.7 250 610C271.7 613.3 308.3 601.7 320 600" stroke="#b6b6b6" stroke-width="20"/>
</g>
<g filter="url(#bl3)">
<path d="M306 660C320.7 647 341 621.7 360 606C379 590.3 401.7 568.3 420 566C438.3 563.7 454.7 579.7 470 592C485.3 604.3 506.7 622 512 640C517.3 658 509.7 683 502 700C494.3 717 469.3 728.3 466 742C462.7 755.7 481.3 764.7 482 782C482.7 799.3 478.3 831 470 846C461.7 861 443 867.7 432 872C421 876.3 412 876 404 872C396 868 393 856.3 384 848C375 839.7 362 832 350 822C338 812 324 799.7 312 788C300 776.3 286.7 765 278 752C269.3 739 261 721.3 260 710C259 698.7 264.3 692.3 272 684C279.7 675.7 291.3 673 306 660Z" fill="#dadada"/>
<ellipse cx="650" cy="525" rx="66" ry="44" fill="#dedede"/>
<path d="M540 600C552.3 588 581.7 564.7 600 560C618.3 555.3 635.7 562.3 650 572C664.3 581.7 681.3 598.3 686 618C690.7 637.7 681.7 666.3 678 690C674.3 713.7 674 739.7 664 760C654 780.3 632 796.7 618 812C604 827.3 592 834 580 852C568 870 555.7 901.7 546 920C536.3 938.3 538.8 955 522 962C505.2 969 453.7 978.7 445 962C436.3 945.3 460.8 895.3 470 862C479.2 828.7 491.7 792 500 762C508.3 732 515.7 703.7 520 682C524.3 660.3 522.7 645.7 526 632C529.3 618.3 527.7 612 540 600Z" fill="#ececec"/>
<path d="M690 440C706.3 440.8 755 450 780 460C805 470 826.3 486.7 840 500C853.7 513.3 862.7 531.3 862 540C861.3 548.7 846.3 552 836 552C825.7 552 811 547.7 800 540C789 532.3 783.3 517.7 770 506C756.7 494.3 734.7 478.5 720 470C705.3 461.5 687 460 682 455C677 450 673.7 439.2 690 440Z" fill="#ffffff"/>
<path d="M600 470C613.3 467.5 656.7 454.2 680 455C703.3 455.8 721.7 464.2 740 475C758.3 485.8 777.5 503.3 790 520C802.5 536.7 811.3 558.3 815 575C818.7 591.7 812.5 612.5 812 620" fill="none" stroke="#e9e9e9" stroke-width="20"/>
<path d="M490 482C494.7 470.3 505 448 520 436C535 424 553.3 416 580 410C606.7 404 646.7 398.3 680 400C713.3 401.7 750 410 780 420C810 430 839.2 445 860 460C880.8 475 895.3 493.3 905 510C914.7 526.7 918.8 546.3 918 560C917.2 573.7 907.7 587.7 900 592C892.3 596.3 875.3 594.3 872 586C868.7 577.7 883.7 556.3 880 542C876.3 527.7 865 514.3 850 500C835 485.7 815 467.2 790 456C765 444.8 728.3 436.3 700 433C671.7 429.7 641.3 432.2 620 436C598.7 439.8 582 447 572 456C562 465 564.5 479 560 490C555.5 501 553.3 515.8 545 522C536.7 528.2 518.8 529.7 510 527C501.2 524.3 495.3 513.5 492 506C488.7 498.5 485.3 493.7 490 482Z" fill="#fbfbfb"/>
<g fill="none" stroke="#b6b6b6" stroke-width="9" opacity="0.45">
<path d="M470 700L300 690M465 705L290 770M470 715L360 840M480 720L440 870M468 695L340 625M472 690L420 580"/>
</g>
</g>
</g>
<ellipse cx="748" cy="730" rx="36" ry="17" fill="#f0f0f0" transform="rotate(-12 748 730)"/>
<path d="M700 770L722 735" stroke="#dadada" stroke-width="9" fill="none"/>
<path d="M404 532C406.7 521.7 433.3 497.7 446 494C458.7 490.3 467 500 480 510C493 520 516.3 541.7 524 554C531.7 566.3 530.7 574.3 526 584C521.3 593.7 506.7 611.7 496 612C485.3 612.3 473 595.3 462 586C451 576.7 439.7 565 430 556C420.3 547 401.3 542.3 404 532Z" fill="#fff"/>
<path d="M464 736C468.8 724 494.5 696 504 690C513.5 684 519.8 691.3 521 700C522.2 708.7 516.2 730 511 742C505.8 754 496 768.7 490 772C484 775.3 479.3 768 475 762C470.7 756 459.2 748 464 736Z" fill="#fff"/>
<path d="M700 640C705 637.8 714 646.7 722 652C730 657.3 741.7 665.3 748 672C754.3 678.7 762.2 687.3 760 692C757.8 696.7 744.2 700.3 735 700C725.8 699.7 712.2 695.8 705 690C697.8 684.2 692.8 673.3 692 665C691.2 656.7 695 642.2 700 640Z" fill="#fff"/>
</g>
<rect x="932.8" y="749.8" width="4.2" height="4.2" fill="#ff0000"/>
<g transform="translate(0 0)" fill="#adadad" stroke="#adadad"><path d="M92.1 877.55H74.15A7 7 0 0 1 67.15 870.55V846.95A7 7 0 0 1 74.15 839.95H78.5" fill="none" stroke-width="7.5"/><path d="M95.2 839.95H116.25A7 7 0 0 1 123.25 846.95V870.55A7 7 0 0 1 116.25 877.55H110" fill="none" stroke-width="7.5"/><polygon points="77.5,832.7 85,839.6 77.5,847.6" stroke="none"/><polygon points="111,868.6 103,876.7 111,884.8" stroke="none"/></g>
<g transform="translate(792.7 -10)" fill="#adadad" stroke="#adadad"><path d="M92.1 877.55H74.15A7 7 0 0 1 67.15 870.55V846.95A7 7 0 0 1 74.15 839.95H78.5" fill="none" stroke-width="7.5"/><path d="M95.2 839.95H116.25A7 7 0 0 1 123.25 846.95V870.55A7 7 0 0 1 116.25 877.55H110" fill="none" stroke-width="7.5"/><polygon points="77.5,832.7 85,839.6 77.5,847.6" stroke="none"/><polygon points="111,868.6 103,876.7 111,884.8" stroke="none"/></g>
<g id="task-d">
<rect x="3.3" y="918.8" width="178" height="117.2" fill="#e8e8e8" stroke="#7f7f7f" stroke-width="2"/>
<use href="#fish" x="0" y="0" transform="translate(28.9 938.2)"/>
<use href="#octo" x="0" y="0" transform="translate(124.7 936.7)"/>
<use href="#crab" x="0" y="0" transform="translate(84.4 988.9)"/>
</g>
<g id="task-e">
<rect x="803.8" y="916.9" width="178.4" height="117.3" fill="#e8e8e8" stroke="#7f7f7f" stroke-width="2"/>
<use href="#crab" x="0" y="0" transform="translate(837.1 927.6)"/>
<use href="#octo" x="0" y="0" transform="translate(837.2 949.3)"/>
<use href="#fish" x="0" y="0" transform="translate(835.5 973.6)"/>
<g fill="#00b050" stroke="#1f5c35" stroke-width="0.8"><rect x="882.6" y="934" width="81" height="11.8"/><rect x="883.9" y="955.2" width="15.8" height="10.5"/><rect x="883.2" y="974.4" width="56.2" height="11.1"/></g>
<ellipse cx="829.2" cy="1015" rx="15.5" ry="9.8" fill="#dcdcdc" stroke="#c8c8c8" stroke-width="0.6"/>
<use href="#octo" x="0" y="0" transform="translate(813.4 1006.4)"/>
<rect x="856.8" y="1008.1" width="111.3" height="14.1" fill="#e8e8e8" stroke="#000" stroke-width="1.6"/>
<rect x="857.6" y="1008.9" width="71.4" height="12.5" fill="#5599dd"/>
<rect x="928.9" y="1008.1" width="1.2" height="14.1" fill="#000"/>
</g>
</svg></body></html>
